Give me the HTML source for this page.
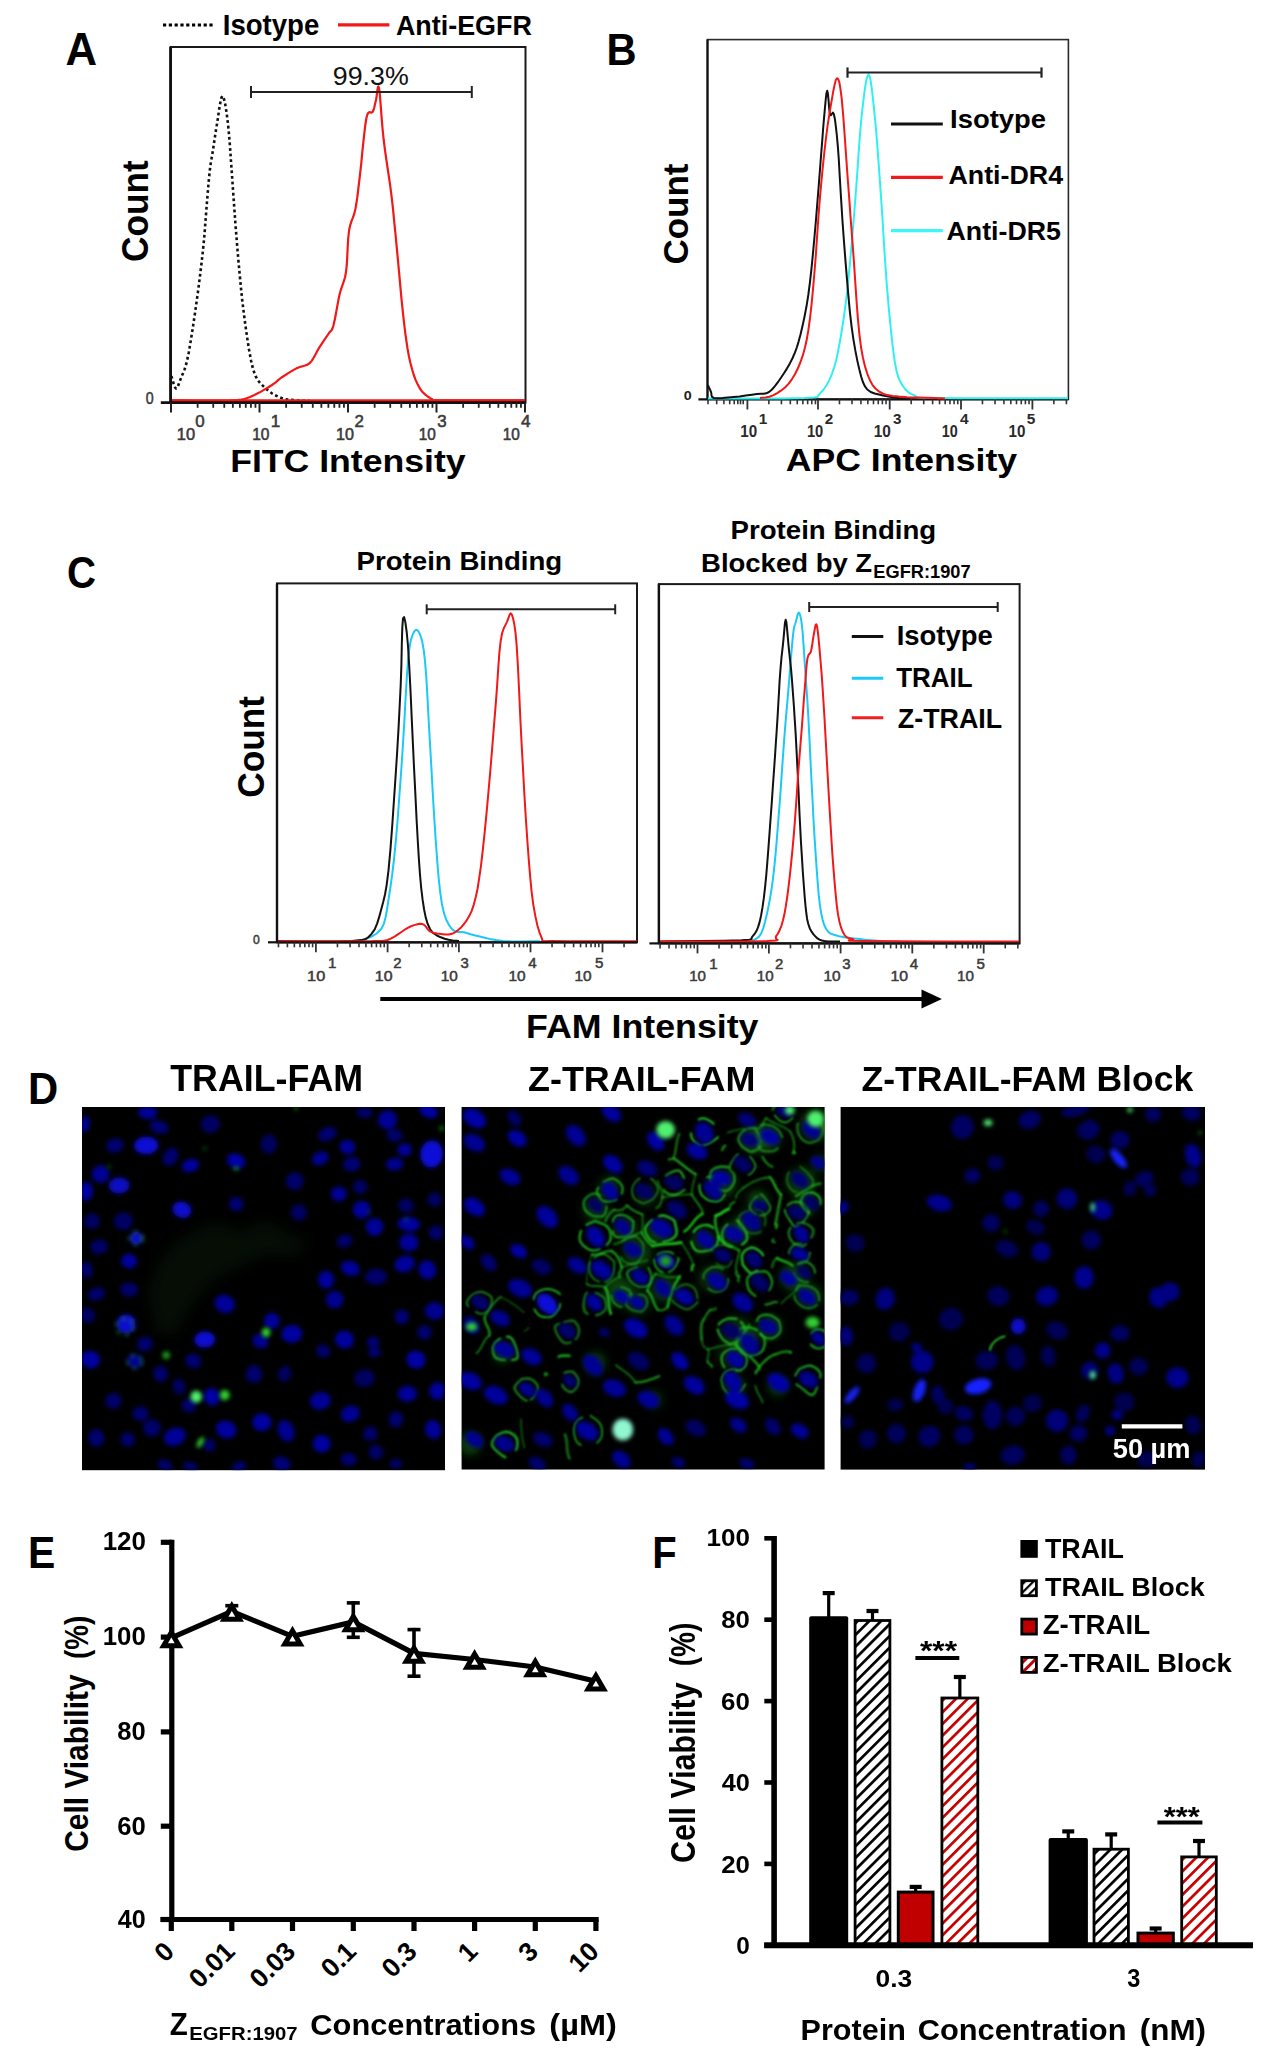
<!DOCTYPE html>
<html><head><meta charset="utf-8"><style>
html,body{margin:0;padding:0;background:#fff;overflow:hidden;}
svg{display:block;}
text{font-family:"Liberation Sans",Arial,sans-serif;}
</style></head><body>
<svg width="1272" height="2050" viewBox="0 0 1272 2050">
<rect width="1272" height="2050" fill="#fff"/>
<text x="65.51" y="65.00" font-size="45.67" font-weight="bold" fill="#000" textLength="31.58" lengthAdjust="spacingAndGlyphs">A</text>
<text x="606.39" y="65.00" font-size="43.78" font-weight="bold" fill="#000" textLength="30.07" lengthAdjust="spacingAndGlyphs">B</text>
<text x="67.09" y="587.50" font-size="44.01" font-weight="bold" fill="#000" textLength="29.00" lengthAdjust="spacingAndGlyphs">C</text>
<text x="27.98" y="1103.60" font-size="43.64" font-weight="bold" fill="#000" textLength="30.18" lengthAdjust="spacingAndGlyphs">D</text>
<text x="28.04" y="1568.20" font-size="44.95" font-weight="bold" fill="#000" textLength="27.28" lengthAdjust="spacingAndGlyphs">E</text>
<text x="652.20" y="1568.00" font-size="43.64" font-weight="bold" fill="#000" textLength="24.43" lengthAdjust="spacingAndGlyphs">F</text>
<line x1="163.00" y1="25.00" x2="215.00" y2="25.00" stroke="#000" stroke-width="3.2" stroke-dasharray="3.2,2.6"/>
<text x="222.74" y="35.40" font-size="28.80" font-weight="bold" fill="#000" textLength="96.59" lengthAdjust="spacingAndGlyphs">Isotype</text>
<line x1="338.00" y1="24.80" x2="389.40" y2="24.80" stroke="#f01818" stroke-width="3.2"/>
<text x="395.92" y="35.40" font-size="26.90" font-weight="bold" fill="#000">Anti-EGFR</text>
<rect x="170.6" y="47" width="354.9" height="355.6" fill="none" stroke="#1a1a1a" stroke-width="2"/>
<polyline points="171.4,376.0 172.0,378.1 172.9,381.2 173.9,384.6 175.0,387.3 176.0,388.5 177.0,388.0 177.9,386.3 178.9,383.8 179.9,380.9 181.0,378.0 182.1,375.3 183.3,372.7 184.5,369.6 185.8,365.6 187.2,360.0 188.7,352.7 190.2,344.1 191.8,334.3 193.4,323.9 195.0,313.0 196.6,301.6 198.3,289.4 199.9,276.6 201.5,263.4 203.0,250.0 204.4,235.5 205.6,219.7 206.8,204.1 208.0,189.7 209.0,178.0 209.9,169.6 210.7,163.5 211.5,158.9 212.2,154.8 213.0,150.0 213.8,144.7 214.5,139.6 215.3,134.4 216.1,129.3 217.0,124.0 218.0,117.6 219.0,110.3 220.2,103.3 221.3,98.0 222.4,96.0 223.5,97.5 224.7,101.5 225.8,107.6 226.9,115.3 228.0,124.0 229.0,134.4 230.0,146.7 230.9,160.1 231.9,173.8 232.8,187.0 233.7,199.6 234.6,212.2 235.5,224.8 236.5,237.4 237.5,250.0 238.6,262.7 239.8,275.5 241.0,288.3 242.3,300.8 243.8,313.0 245.4,325.3 247.2,337.9 249.1,350.0 251.1,360.8 253.2,369.6 255.5,375.9 257.9,380.3 260.4,383.4 263.0,385.9 265.8,388.5 268.7,391.1 271.9,393.3 275.1,395.2 278.3,396.7 281.5,398.0 284.7,399.0 287.8,399.6 291.0,399.9 294.1,400.1 297.0,400.4 300.0,400.6 303.0,400.8 305.9,400.9 308.3,400.9 310.0,401.0" fill="none" stroke="#111" stroke-width="2.6" stroke-linejoin="round" stroke-dasharray="2.8,2.8"/>
<polyline points="171.0,400.3 179.8,400.4 192.6,400.5 207.1,400.5 220.7,400.5 231.0,400.3 237.4,400.0 241.4,399.6 244.2,399.1 246.7,398.3 250.0,397.0 254.4,395.1 259.2,392.6 264.0,389.9 268.4,387.3 272.0,385.0 274.6,383.2 276.4,381.8 277.9,380.4 279.4,379.1 281.5,377.5 284.3,375.7 287.5,373.6 290.8,371.6 294.2,369.6 297.2,368.0 300.0,366.9 302.6,366.2 305.1,365.5 307.5,364.6 309.8,363.0 311.9,360.6 313.8,357.5 315.6,354.2 317.4,350.8 319.2,347.6 321.2,344.6 323.2,341.6 325.2,338.6 327.1,335.9 328.7,333.5 329.9,331.9 330.8,331.0 331.6,330.2 332.4,328.6 333.4,325.6 334.6,320.6 335.8,314.2 337.1,307.1 338.4,300.1 339.7,294.0 341.0,289.3 342.4,285.4 343.7,281.7 345.0,277.5 346.0,272.0 346.8,264.7 347.3,256.1 347.7,246.9 348.2,238.3 349.0,231.0 350.1,225.6 351.4,221.4 352.8,217.8 354.2,213.9 355.4,209.0 356.4,203.3 357.3,197.2 358.1,190.6 359.0,183.2 360.0,174.7 361.2,164.0 362.4,151.2 363.8,138.1 365.1,126.5 366.4,118.0 367.7,113.6 369.1,112.2 370.4,112.3 371.6,112.6 372.7,111.8 373.6,109.8 374.3,107.5 374.8,105.0 375.4,102.5 376.0,100.0 376.6,96.6 377.1,92.1 377.7,88.2 378.3,86.3 379.0,88.0 379.8,94.2 380.6,104.0 381.5,115.8 382.5,128.3 383.7,140.0 385.1,150.9 386.7,162.0 388.4,173.3 390.1,184.9 391.6,196.7 393.0,208.9 394.2,221.4 395.5,234.1 396.7,246.9 397.9,259.6 399.1,272.5 400.3,285.8 401.5,299.0 402.8,311.4 404.0,322.5 405.2,332.3 406.4,341.0 407.6,349.0 408.9,356.2 410.4,363.0 412.1,369.3 413.8,375.0 415.7,380.1 417.8,384.6 419.9,388.5 422.3,391.8 425.0,394.4 427.7,396.5 430.3,398.2 432.5,399.5 433.1,400.3 432.1,400.6 431.7,400.5 433.6,400.4 440.0,400.3 453.4,400.4 472.5,400.4 493.4,400.3 512.2,400.3 525.0,400.3" fill="none" stroke="#f01818" stroke-width="2.2" stroke-linejoin="round"/>
<line x1="171.00" y1="400.60" x2="525.00" y2="400.60" stroke="#f01818" stroke-width="2.6"/>
<line x1="170.60" y1="47.00" x2="170.60" y2="402.60" stroke="#111" stroke-width="2.8"/>
<line x1="160.80" y1="402.60" x2="525.50" y2="402.60" stroke="#111" stroke-width="2.6"/>
<line x1="171.00" y1="402.60" x2="171.00" y2="412.50" stroke="#222" stroke-width="2"/>
<line x1="197.64" y1="402.60" x2="197.64" y2="407.80" stroke="#222" stroke-width="1.8"/>
<line x1="213.23" y1="402.60" x2="213.23" y2="407.80" stroke="#222" stroke-width="1.8"/>
<line x1="224.28" y1="402.60" x2="224.28" y2="407.80" stroke="#222" stroke-width="1.8"/>
<line x1="232.86" y1="402.60" x2="232.86" y2="407.80" stroke="#222" stroke-width="1.8"/>
<line x1="239.87" y1="402.60" x2="239.87" y2="407.80" stroke="#222" stroke-width="1.8"/>
<line x1="245.79" y1="402.60" x2="245.79" y2="407.80" stroke="#222" stroke-width="1.8"/>
<line x1="250.92" y1="402.60" x2="250.92" y2="407.80" stroke="#222" stroke-width="1.8"/>
<line x1="255.45" y1="402.60" x2="255.45" y2="407.80" stroke="#222" stroke-width="1.8"/>
<line x1="259.50" y1="402.60" x2="259.50" y2="412.50" stroke="#222" stroke-width="2"/>
<line x1="286.14" y1="402.60" x2="286.14" y2="407.80" stroke="#222" stroke-width="1.8"/>
<line x1="301.73" y1="402.60" x2="301.73" y2="407.80" stroke="#222" stroke-width="1.8"/>
<line x1="312.78" y1="402.60" x2="312.78" y2="407.80" stroke="#222" stroke-width="1.8"/>
<line x1="321.36" y1="402.60" x2="321.36" y2="407.80" stroke="#222" stroke-width="1.8"/>
<line x1="328.37" y1="402.60" x2="328.37" y2="407.80" stroke="#222" stroke-width="1.8"/>
<line x1="334.29" y1="402.60" x2="334.29" y2="407.80" stroke="#222" stroke-width="1.8"/>
<line x1="339.42" y1="402.60" x2="339.42" y2="407.80" stroke="#222" stroke-width="1.8"/>
<line x1="343.95" y1="402.60" x2="343.95" y2="407.80" stroke="#222" stroke-width="1.8"/>
<line x1="348.00" y1="402.60" x2="348.00" y2="412.50" stroke="#222" stroke-width="2"/>
<line x1="374.64" y1="402.60" x2="374.64" y2="407.80" stroke="#222" stroke-width="1.8"/>
<line x1="390.23" y1="402.60" x2="390.23" y2="407.80" stroke="#222" stroke-width="1.8"/>
<line x1="401.28" y1="402.60" x2="401.28" y2="407.80" stroke="#222" stroke-width="1.8"/>
<line x1="409.86" y1="402.60" x2="409.86" y2="407.80" stroke="#222" stroke-width="1.8"/>
<line x1="416.87" y1="402.60" x2="416.87" y2="407.80" stroke="#222" stroke-width="1.8"/>
<line x1="422.79" y1="402.60" x2="422.79" y2="407.80" stroke="#222" stroke-width="1.8"/>
<line x1="427.92" y1="402.60" x2="427.92" y2="407.80" stroke="#222" stroke-width="1.8"/>
<line x1="432.45" y1="402.60" x2="432.45" y2="407.80" stroke="#222" stroke-width="1.8"/>
<line x1="436.50" y1="402.60" x2="436.50" y2="412.50" stroke="#222" stroke-width="2"/>
<line x1="463.14" y1="402.60" x2="463.14" y2="407.80" stroke="#222" stroke-width="1.8"/>
<line x1="478.73" y1="402.60" x2="478.73" y2="407.80" stroke="#222" stroke-width="1.8"/>
<line x1="489.78" y1="402.60" x2="489.78" y2="407.80" stroke="#222" stroke-width="1.8"/>
<line x1="498.36" y1="402.60" x2="498.36" y2="407.80" stroke="#222" stroke-width="1.8"/>
<line x1="505.37" y1="402.60" x2="505.37" y2="407.80" stroke="#222" stroke-width="1.8"/>
<line x1="511.29" y1="402.60" x2="511.29" y2="407.80" stroke="#222" stroke-width="1.8"/>
<line x1="516.42" y1="402.60" x2="516.42" y2="407.80" stroke="#222" stroke-width="1.8"/>
<line x1="520.95" y1="402.60" x2="520.95" y2="407.80" stroke="#222" stroke-width="1.8"/>
<line x1="525.00" y1="402.60" x2="525.00" y2="412.50" stroke="#222" stroke-width="2"/>
<text x="145.83" y="403.50" font-size="16.34" font-weight="normal" fill="#3a3a3a" textLength="7.92" lengthAdjust="spacingAndGlyphs" stroke="#3a3a3a" stroke-width="0.5">0</text>
<text x="176.77" y="439.60" font-size="15.77" font-weight="normal" fill="#3a3a3a" textLength="18.29" lengthAdjust="spacingAndGlyphs" stroke="#3a3a3a" stroke-width="0.55">10</text>
<text x="195.22" y="427.20" font-size="16.92" font-weight="normal" fill="#3a3a3a" stroke="#3a3a3a" stroke-width="0.55">0</text>
<text x="252.23" y="439.60" font-size="15.77" font-weight="normal" fill="#3a3a3a" textLength="17.28" lengthAdjust="spacingAndGlyphs" stroke="#3a3a3a" stroke-width="0.55">10</text>
<text x="270.71" y="427.20" font-size="17.16" font-weight="normal" fill="#3a3a3a" stroke="#3a3a3a" stroke-width="0.55">1</text>
<text x="335.99" y="439.60" font-size="15.77" font-weight="normal" fill="#3a3a3a" textLength="17.95" lengthAdjust="spacingAndGlyphs" stroke="#3a3a3a" stroke-width="0.55">10</text>
<text x="354.55" y="427.20" font-size="16.92" font-weight="normal" fill="#3a3a3a" stroke="#3a3a3a" stroke-width="0.55">2</text>
<text x="418.65" y="439.60" font-size="15.77" font-weight="normal" fill="#3a3a3a" textLength="17.06" lengthAdjust="spacingAndGlyphs" stroke="#3a3a3a" stroke-width="0.55">10</text>
<text x="437.27" y="427.20" font-size="16.92" font-weight="normal" fill="#3a3a3a" stroke="#3a3a3a" stroke-width="0.55">3</text>
<text x="502.85" y="439.60" font-size="15.77" font-weight="normal" fill="#3a3a3a" textLength="17.06" lengthAdjust="spacingAndGlyphs" stroke="#3a3a3a" stroke-width="0.55">10</text>
<text x="520.91" y="427.20" font-size="17.16" font-weight="normal" fill="#3a3a3a" stroke="#3a3a3a" stroke-width="0.55">4</text>
<line x1="251.00" y1="92.00" x2="471.80" y2="92.00" stroke="#222" stroke-width="2"/>
<line x1="251.00" y1="86.00" x2="251.00" y2="98.00" stroke="#222" stroke-width="2"/>
<line x1="471.80" y1="86.00" x2="471.80" y2="98.00" stroke="#222" stroke-width="2"/>
<text x="332.83" y="85.40" font-size="25.52" font-weight="normal" fill="#111" textLength="75.96" lengthAdjust="spacingAndGlyphs">99.3%</text>
<text transform="translate(148.40,260.60) rotate(-90)" x="-1.41" y="0" font-size="36.56" font-weight="bold" fill="#000" textLength="101.86" lengthAdjust="spacingAndGlyphs">Count</text>
<text x="230.20" y="471.70" font-size="32.00" font-weight="bold" fill="#000" textLength="235.44" lengthAdjust="spacingAndGlyphs">FITC Intensity</text>
<rect x="707.5" y="39.6" width="360.9" height="359.7" fill="none" stroke="#2a2a2a" stroke-width="1.6"/>
<line x1="707.50" y1="39.60" x2="707.50" y2="399.30" stroke="#111" stroke-width="2.2"/>
<line x1="698.40" y1="399.30" x2="1068.40" y2="399.30" stroke="#111" stroke-width="2.2"/>
<line x1="708.00" y1="399.30" x2="708.00" y2="404.30" stroke="#333" stroke-width="1.6"/>
<line x1="716.70" y1="399.30" x2="716.70" y2="404.30" stroke="#333" stroke-width="1.6"/>
<line x1="723.90" y1="399.30" x2="723.90" y2="404.30" stroke="#333" stroke-width="1.6"/>
<line x1="729.70" y1="399.30" x2="729.70" y2="404.30" stroke="#333" stroke-width="1.6"/>
<line x1="734.20" y1="399.30" x2="734.20" y2="404.30" stroke="#333" stroke-width="1.6"/>
<line x1="737.80" y1="399.30" x2="737.80" y2="404.30" stroke="#333" stroke-width="1.6"/>
<line x1="740.50" y1="399.30" x2="740.50" y2="404.30" stroke="#333" stroke-width="1.6"/>
<line x1="743.20" y1="399.30" x2="743.20" y2="404.30" stroke="#333" stroke-width="1.6"/>
<line x1="747.40" y1="399.30" x2="747.40" y2="409.50" stroke="#333" stroke-width="1.8"/>
<line x1="768.86" y1="399.30" x2="768.86" y2="404.30" stroke="#333" stroke-width="1.6"/>
<line x1="781.42" y1="399.30" x2="781.42" y2="404.30" stroke="#333" stroke-width="1.6"/>
<line x1="790.33" y1="399.30" x2="790.33" y2="404.30" stroke="#333" stroke-width="1.6"/>
<line x1="797.24" y1="399.30" x2="797.24" y2="404.30" stroke="#333" stroke-width="1.6"/>
<line x1="802.88" y1="399.30" x2="802.88" y2="404.30" stroke="#333" stroke-width="1.6"/>
<line x1="807.66" y1="399.30" x2="807.66" y2="404.30" stroke="#333" stroke-width="1.6"/>
<line x1="811.79" y1="399.30" x2="811.79" y2="404.30" stroke="#333" stroke-width="1.6"/>
<line x1="815.44" y1="399.30" x2="815.44" y2="404.30" stroke="#333" stroke-width="1.6"/>
<line x1="818.00" y1="399.30" x2="818.00" y2="409.50" stroke="#333" stroke-width="1.8"/>
<line x1="839.46" y1="399.30" x2="839.46" y2="404.30" stroke="#333" stroke-width="1.6"/>
<line x1="852.02" y1="399.30" x2="852.02" y2="404.30" stroke="#333" stroke-width="1.6"/>
<line x1="860.93" y1="399.30" x2="860.93" y2="404.30" stroke="#333" stroke-width="1.6"/>
<line x1="867.84" y1="399.30" x2="867.84" y2="404.30" stroke="#333" stroke-width="1.6"/>
<line x1="873.48" y1="399.30" x2="873.48" y2="404.30" stroke="#333" stroke-width="1.6"/>
<line x1="878.26" y1="399.30" x2="878.26" y2="404.30" stroke="#333" stroke-width="1.6"/>
<line x1="882.39" y1="399.30" x2="882.39" y2="404.30" stroke="#333" stroke-width="1.6"/>
<line x1="886.04" y1="399.30" x2="886.04" y2="404.30" stroke="#333" stroke-width="1.6"/>
<line x1="889.70" y1="399.30" x2="889.70" y2="409.50" stroke="#333" stroke-width="1.8"/>
<line x1="911.16" y1="399.30" x2="911.16" y2="404.30" stroke="#333" stroke-width="1.6"/>
<line x1="923.72" y1="399.30" x2="923.72" y2="404.30" stroke="#333" stroke-width="1.6"/>
<line x1="932.63" y1="399.30" x2="932.63" y2="404.30" stroke="#333" stroke-width="1.6"/>
<line x1="939.54" y1="399.30" x2="939.54" y2="404.30" stroke="#333" stroke-width="1.6"/>
<line x1="945.18" y1="399.30" x2="945.18" y2="404.30" stroke="#333" stroke-width="1.6"/>
<line x1="949.96" y1="399.30" x2="949.96" y2="404.30" stroke="#333" stroke-width="1.6"/>
<line x1="954.09" y1="399.30" x2="954.09" y2="404.30" stroke="#333" stroke-width="1.6"/>
<line x1="957.74" y1="399.30" x2="957.74" y2="404.30" stroke="#333" stroke-width="1.6"/>
<line x1="961.00" y1="399.30" x2="961.00" y2="409.50" stroke="#333" stroke-width="1.8"/>
<line x1="982.46" y1="399.30" x2="982.46" y2="404.30" stroke="#333" stroke-width="1.6"/>
<line x1="995.02" y1="399.30" x2="995.02" y2="404.30" stroke="#333" stroke-width="1.6"/>
<line x1="1003.93" y1="399.30" x2="1003.93" y2="404.30" stroke="#333" stroke-width="1.6"/>
<line x1="1010.84" y1="399.30" x2="1010.84" y2="404.30" stroke="#333" stroke-width="1.6"/>
<line x1="1016.48" y1="399.30" x2="1016.48" y2="404.30" stroke="#333" stroke-width="1.6"/>
<line x1="1021.26" y1="399.30" x2="1021.26" y2="404.30" stroke="#333" stroke-width="1.6"/>
<line x1="1025.39" y1="399.30" x2="1025.39" y2="404.30" stroke="#333" stroke-width="1.6"/>
<line x1="1029.04" y1="399.30" x2="1029.04" y2="404.30" stroke="#333" stroke-width="1.6"/>
<line x1="1032.40" y1="399.30" x2="1032.40" y2="409.50" stroke="#333" stroke-width="1.8"/>
<line x1="1053.86" y1="399.30" x2="1053.86" y2="404.30" stroke="#333" stroke-width="1.6"/>
<line x1="1066.42" y1="399.30" x2="1066.42" y2="404.30" stroke="#333" stroke-width="1.6"/>
<text x="683.83" y="399.60" font-size="13.19" font-weight="bold" fill="#222" textLength="7.96" lengthAdjust="spacingAndGlyphs">0</text>
<text x="740.25" y="437.00" font-size="16.34" font-weight="bold" fill="#2a2a2a" textLength="16.89" lengthAdjust="spacingAndGlyphs">10</text>
<text x="758.74" y="423.70" font-size="15.42" font-weight="bold" fill="#2a2a2a">1</text>
<text x="806.88" y="437.00" font-size="16.34" font-weight="bold" fill="#2a2a2a" textLength="16.34" lengthAdjust="spacingAndGlyphs">10</text>
<text x="824.87" y="423.70" font-size="15.20" font-weight="bold" fill="#2a2a2a">2</text>
<text x="873.64" y="437.00" font-size="16.34" font-weight="bold" fill="#2a2a2a" textLength="17.11" lengthAdjust="spacingAndGlyphs">10</text>
<text x="893.06" y="423.70" font-size="15.20" font-weight="bold" fill="#2a2a2a">3</text>
<text x="941.70" y="437.00" font-size="16.34" font-weight="bold" fill="#2a2a2a" textLength="16.01" lengthAdjust="spacingAndGlyphs">10</text>
<text x="960.07" y="423.70" font-size="15.42" font-weight="bold" fill="#2a2a2a">4</text>
<text x="1008.45" y="437.00" font-size="16.34" font-weight="bold" fill="#2a2a2a" textLength="16.89" lengthAdjust="spacingAndGlyphs">10</text>
<text x="1026.64" y="423.70" font-size="15.42" font-weight="bold" fill="#2a2a2a">5</text>
<polyline points="708.0,398.5 727.2,398.5 755.2,398.5 783.7,398.4 804.4,398.0 814.1,397.5 817.5,396.9 818.2,395.7 820.0,393.4 823.4,389.8 826.5,385.3 829.4,379.9 832.0,373.8 834.2,367.3 836.2,360.3 837.9,352.1 839.8,342.3 841.7,331.0 843.7,318.5 845.6,304.1 847.6,287.3 849.6,266.9 851.7,243.6 853.7,219.5 855.5,196.9 857.1,175.6 858.5,154.7 859.9,135.2 861.4,118.3 863.1,102.8 864.9,88.6 866.7,78.2 868.5,74.2 870.2,78.2 871.8,88.6 873.4,102.8 875.0,118.3 876.5,135.2 878.0,154.7 879.5,175.6 881.0,196.9 882.5,219.0 883.9,242.3 885.4,265.5 887.0,287.3 888.8,308.3 890.8,328.8 892.8,347.3 894.8,362.0 896.7,371.8 898.5,377.9 900.4,381.9 902.7,385.6 905.2,389.2 907.9,391.8 910.9,393.8 914.5,395.4 916.2,396.6 916.6,397.3 920.9,397.7 934.0,398.0 962.6,398.2 1002.2,398.3 1041.2,398.3 1068.0,398.3" fill="none" stroke="#2ff0f0" stroke-width="2" stroke-linejoin="round"/>
<polyline points="708.0,385.0 708.5,386.3 709.3,388.1 710.2,390.2 711.0,392.0 711.4,393.7 711.5,395.5 712.1,397.0 714.0,398.0 717.6,398.3 722.5,398.1 728.0,397.6 733.6,397.0 739.5,396.4 745.8,395.6 751.9,394.7 757.0,394.0 760.8,393.7 763.7,393.7 766.3,393.3 769.0,392.0 772.0,389.5 774.9,386.1 777.9,382.2 780.8,378.0 783.8,373.5 786.9,368.6 789.9,363.4 792.6,358.0 794.9,352.7 796.8,347.5 798.6,341.6 800.5,334.5 802.5,326.1 804.5,316.7 806.5,306.3 808.3,295.0 809.9,282.7 811.4,269.4 812.8,255.2 814.2,240.0 815.7,223.0 817.2,204.5 818.7,186.0 820.0,169.4 821.1,154.7 822.2,141.2 823.1,129.0 824.0,118.3 824.9,108.6 825.7,99.9 826.4,93.5 827.2,90.8 827.9,93.6 828.6,100.8 829.2,108.9 830.0,114.3 830.9,115.2 831.9,113.8 832.9,112.6 833.9,114.3 834.9,119.2 835.8,126.1 836.8,135.0 837.8,145.8 838.8,159.5 839.7,175.8 840.7,192.8 841.7,208.7 842.6,222.8 843.6,236.2 844.6,249.6 845.7,263.7 847.0,279.3 848.4,295.9 849.9,312.1 851.6,326.6 853.4,339.3 855.4,350.9 857.4,361.1 859.4,369.8 861.2,376.7 862.9,382.0 864.8,386.1 867.3,389.5 870.7,392.0 874.7,393.5 878.9,394.5 883.0,395.4 887.0,396.3 891.1,397.0 895.1,397.6 898.7,398.0 902.1,398.3 905.3,398.4 908.1,398.5 910.0,398.5" fill="none" stroke="#111" stroke-width="2" stroke-linejoin="round"/>
<polyline points="760.0,398.0 762.3,397.7 765.5,397.4 769.3,396.8 773.0,395.4 776.8,393.3 780.9,390.7 785.0,387.5 788.7,383.6 792.0,379.1 795.1,374.0 797.9,368.3 800.5,362.0 802.8,355.4 804.8,348.3 806.6,340.3 808.3,330.5 809.9,319.0 811.4,305.9 812.8,291.5 814.2,275.5 815.7,257.0 817.1,236.4 818.5,215.7 820.0,196.9 821.5,180.3 823.0,165.0 824.5,150.9 826.0,138.0 827.5,126.3 829.1,115.9 830.6,106.7 832.0,98.6 833.3,91.2 834.6,84.7 835.8,80.0 837.0,78.2 838.2,79.1 839.3,82.2 840.4,88.5 841.7,98.6 843.1,114.1 844.6,134.2 846.1,156.0 847.6,177.0 849.1,196.7 850.5,216.4 852.0,236.1 853.5,255.8 854.9,276.4 856.3,297.6 857.8,317.6 859.4,334.5 861.1,347.6 863.0,358.0 865.0,366.4 867.3,373.8 869.8,380.0 872.4,384.8 875.4,388.5 879.0,391.5 883.0,393.7 887.4,395.1 892.5,395.9 898.7,396.6 907.0,397.2 916.9,397.6 926.5,397.8 934.0,398.0 938.7,398.2 941.7,398.3 943.6,398.4 945.0,398.5" fill="none" stroke="#f01818" stroke-width="2" stroke-linejoin="round"/>
<line x1="847.50" y1="72.50" x2="1041.50" y2="72.50" stroke="#222" stroke-width="2.2"/>
<line x1="847.50" y1="67.40" x2="847.50" y2="77.70" stroke="#222" stroke-width="2.2"/>
<line x1="1041.50" y1="67.40" x2="1041.50" y2="77.70" stroke="#222" stroke-width="2.2"/>
<line x1="891.00" y1="124.00" x2="942.80" y2="124.00" stroke="#111" stroke-width="3.2"/>
<line x1="891.00" y1="177.40" x2="942.80" y2="177.40" stroke="#f01818" stroke-width="3.2"/>
<line x1="891.00" y1="230.60" x2="942.80" y2="230.60" stroke="#3ff5f5" stroke-width="3.2"/>
<text x="950.05" y="127.70" font-size="25.16" font-weight="bold" fill="#000" textLength="95.97" lengthAdjust="spacingAndGlyphs">Isotype</text>
<text x="948.43" y="184.30" font-size="25.10" font-weight="bold" fill="#000" textLength="114.70" lengthAdjust="spacingAndGlyphs">Anti-DR4</text>
<text x="946.53" y="240.00" font-size="25.38" font-weight="bold" fill="#000" textLength="114.40" lengthAdjust="spacingAndGlyphs">Anti-DR5</text>
<text transform="translate(688.40,263.10) rotate(-90)" x="-1.40" y="0" font-size="35.56" font-weight="bold" fill="#000" textLength="100.84" lengthAdjust="spacingAndGlyphs">Count</text>
<text x="785.71" y="471.30" font-size="31.59" font-weight="bold" fill="#000" textLength="231.41" lengthAdjust="spacingAndGlyphs">APC Intensity</text>
<text x="356.53" y="570.00" font-size="26.48" font-weight="bold" fill="#000" textLength="205.71" lengthAdjust="spacingAndGlyphs">Protein Binding</text>
<text x="730.53" y="539.30" font-size="25.24" font-weight="bold" fill="#000" textLength="205.71" lengthAdjust="spacingAndGlyphs">Protein Binding</text>
<text x="701.04" y="572.00" font-size="25.66" font-weight="bold" fill="#000" textLength="171.15" lengthAdjust="spacingAndGlyphs">Blocked by Z</text>
<text x="873.37" y="578.10" font-size="18.49" font-weight="bold" fill="#000" textLength="97.21" lengthAdjust="spacingAndGlyphs">EGFR:1907</text>
<rect x="277" y="583.4" width="360" height="358.9" fill="none" stroke="#1a1a1a" stroke-width="2"/>
<rect x="658.9" y="584.1" width="360.7" height="359.3" fill="none" stroke="#1a1a1a" stroke-width="2"/>
<polyline points="361.7,941.0 365.5,939.2 371.0,936.8 376.7,933.5 381.2,929.0 383.9,923.6 385.6,917.3 387.0,909.5 388.5,899.7 390.3,888.0 392.2,874.7 394.0,859.3 395.8,841.2 397.7,819.2 399.5,794.0 401.4,768.0 403.0,743.7 404.4,720.6 405.6,697.8 406.8,677.2 408.0,660.8 409.2,649.6 410.4,642.3 411.6,637.6 412.9,634.0 414.4,631.2 416.0,629.9 417.6,630.3 419.2,632.6 420.7,636.3 422.2,641.4 423.6,649.2 425.0,660.8 426.3,677.3 427.5,697.9 428.7,720.7 430.0,743.7 431.4,767.8 432.8,793.7 434.3,818.9 435.8,841.2 437.2,860.4 438.6,877.5 440.2,892.3 442.0,904.6 444.2,913.9 446.6,920.6 449.2,925.3 451.9,929.0 454.7,931.3 457.6,931.9 460.7,931.9 464.0,932.3 467.3,933.2 470.6,934.2 474.3,935.2 478.7,936.3 483.8,937.5 489.5,938.9 495.8,940.1 503.0,941.0 512.2,941.4 523.0,941.4 533.1,941.3 540.0,941.3" fill="none" stroke="#1cc8f8" stroke-width="2" stroke-linejoin="round"/>
<polyline points="277.0,941.0 291.8,941.2 313.3,941.4 335.4,941.5 352.0,941.0 361.0,940.1 365.8,938.9 368.6,937.0 371.5,933.8 374.7,929.3 377.1,923.6 379.2,916.9 381.2,909.4 383.2,902.0 385.0,894.5 386.7,884.6 388.5,870.4 390.4,849.9 392.3,824.8 394.1,798.1 395.8,773.0 397.3,749.8 398.6,727.1 399.7,705.3 400.7,685.0 401.4,664.6 401.8,644.5 402.3,627.9 403.0,618.4 404.1,617.0 405.3,621.9 406.7,632.0 408.0,646.0 409.2,665.5 410.5,690.5 411.7,717.6 412.9,743.7 414.1,769.0 415.4,794.9 416.6,819.6 417.8,841.2 418.9,859.3 420.0,874.7 421.2,888.0 422.6,899.7 424.1,909.5 425.7,917.4 427.6,923.7 430.0,929.0 433.1,933.0 436.9,935.5 440.8,937.3 444.6,938.7 448.6,939.8 452.7,940.5 456.4,940.8 459.0,941.0" fill="none" stroke="#111" stroke-width="2" stroke-linejoin="round"/>
<polyline points="277.0,941.3 286.8,941.3 301.0,941.3 316.4,941.3 330.0,941.3 341.5,941.3 352.4,941.3 362.1,941.3 370.0,941.2 375.7,941.1 379.5,941.0 382.3,940.9 385.0,940.5 387.5,940.0 389.5,939.3 391.2,938.4 393.0,937.5 394.9,936.4 396.7,935.2 398.6,933.9 400.7,932.5 402.9,931.0 405.3,929.3 407.8,927.8 410.4,926.5 413.4,925.4 416.6,924.4 419.8,923.8 422.6,924.0 424.7,925.3 426.5,927.4 428.1,929.7 430.0,931.4 432.2,932.4 434.5,933.1 437.0,933.5 439.7,933.8 442.6,934.2 445.6,934.6 448.8,934.5 451.9,933.8 455.0,932.3 458.1,930.1 461.1,927.4 464.0,924.0 466.7,920.3 469.2,916.1 471.6,911.1 473.8,904.6 475.8,897.0 477.6,888.5 479.2,878.2 481.0,865.6 482.8,850.1 484.7,832.1 486.6,812.6 488.4,792.5 490.3,771.0 492.2,748.0 494.0,725.3 495.7,704.7 497.1,686.1 498.2,668.8 499.3,653.6 500.6,641.4 502.1,633.2 503.8,628.2 505.5,624.9 507.0,621.9 508.3,618.3 509.5,615.0 510.6,613.3 511.8,614.5 513.0,618.1 514.2,623.7 515.5,632.6 516.7,646.0 517.9,665.8 519.1,690.7 520.3,717.7 521.6,743.7 523.0,768.9 524.4,794.6 525.9,819.2 527.4,841.2 528.8,860.1 530.2,876.9 531.6,891.6 533.3,904.6 535.3,915.9 537.4,925.5 539.7,933.1 542.0,938.7 542.6,941.6 542.1,942.0 544.0,941.3 551.8,941.0 569.8,941.2 595.0,941.3 619.9,941.3 637.0,941.3" fill="none" stroke="#f01818" stroke-width="2" stroke-linejoin="round"/>
<polyline points="752.3,941.1 754.0,940.1 756.4,938.7 759.0,936.6 761.4,933.0 763.4,927.8 765.2,921.2 767.0,913.8 768.6,905.9 770.1,898.1 771.4,890.1 772.7,880.9 774.0,869.8 775.4,855.9 776.8,839.9 778.1,823.0 779.4,806.6 780.6,790.6 781.7,774.4 782.8,758.6 783.9,743.4 785.0,729.2 786.1,715.8 787.3,702.6 788.4,689.3 789.6,674.8 790.8,659.6 792.0,645.7 793.0,635.1 793.8,629.0 794.4,626.0 795.0,624.5 795.7,622.5 796.5,619.3 797.3,615.9 798.1,613.4 798.9,612.6 799.7,613.8 800.5,616.5 801.3,620.6 802.0,626.1 802.7,633.1 803.3,641.6 804.0,651.4 804.7,662.2 805.5,674.1 806.4,687.0 807.4,701.2 808.3,716.4 809.2,733.4 810.1,751.9 811.0,770.8 811.9,788.6 812.8,805.2 813.6,821.3 814.5,836.8 815.5,851.7 816.5,866.6 817.6,881.3 818.7,894.7 820.0,905.9 821.4,914.3 822.8,920.6 824.4,925.5 826.4,929.4 828.7,932.3 831.2,933.9 834.0,934.8 837.2,935.7 840.6,936.6 844.3,937.3 848.5,937.8 853.4,938.4 859.6,939.1 866.7,939.9 874.0,940.6 880.5,941.1 886.4,941.4 891.9,941.5 896.7,941.5 900.0,941.5" fill="none" stroke="#1cc8f8" stroke-width="2" stroke-linejoin="round"/>
<polyline points="659.0,941.5 675.5,941.3 699.6,941.1 724.0,940.7 741.5,940.2 749.3,939.7 751.6,939.2 751.5,938.3 752.3,936.6 754.4,934.2 756.3,931.3 758.0,927.4 759.6,922.1 761.1,915.4 762.5,907.4 763.8,898.2 765.0,887.8 766.2,875.9 767.3,862.6 768.4,848.3 769.5,833.7 770.6,818.3 771.8,802.1 772.9,785.9 774.0,770.5 775.0,756.1 775.9,742.3 776.8,729.1 777.6,716.4 778.3,704.0 779.0,692.1 779.6,681.0 780.3,671.2 781.0,663.1 781.6,656.4 782.3,650.3 783.0,644.2 783.7,636.8 784.4,628.8 785.0,622.4 785.7,619.8 786.4,622.2 787.0,628.2 787.7,636.1 788.4,644.2 789.2,652.0 790.1,660.4 791.1,669.7 792.0,680.3 792.9,692.6 793.9,706.2 794.8,720.4 795.7,734.4 796.4,747.9 797.1,761.5 797.8,775.1 798.4,788.6 799.0,802.1 799.6,815.7 800.3,829.2 801.0,842.7 801.9,856.9 802.8,871.5 803.8,885.3 804.7,896.9 805.5,905.9 806.3,913.0 807.1,918.9 808.3,924.0 809.8,928.4 811.6,931.7 813.5,934.4 815.5,936.6 817.5,938.4 819.5,939.6 821.8,940.5 824.5,941.1 828.3,941.5 832.8,941.6 837.1,941.5 840.0,941.5" fill="none" stroke="#111" stroke-width="2" stroke-linejoin="round"/>
<polyline points="659.0,941.5 680.7,941.5 712.3,941.6 744.3,941.5 766.8,941.1 776.0,940.5 777.6,939.8 776.0,938.7 775.8,936.6 777.8,933.7 779.6,930.2 781.4,925.8 783.0,920.3 784.5,913.8 785.8,906.4 787.1,897.8 788.4,887.8 789.8,876.0 791.2,862.7 792.6,848.4 793.9,833.7 795.1,818.1 796.3,801.5 797.4,785.2 798.4,770.5 799.4,757.7 800.3,746.3 801.2,735.6 802.0,725.4 802.7,715.6 803.4,706.4 804.0,697.7 804.7,689.3 805.4,680.7 806.0,672.1 806.7,664.5 807.4,658.6 808.3,655.4 809.2,654.1 810.1,653.3 811.0,651.4 811.7,647.8 812.4,643.5 813.0,639.0 813.7,635.1 814.4,631.3 815.1,627.4 815.7,624.7 816.4,624.3 817.1,626.5 817.7,630.8 818.4,636.7 819.1,644.2 819.9,653.3 820.8,664.0 821.8,676.2 822.7,689.3 823.6,703.8 824.6,719.8 825.5,736.3 826.4,752.5 827.3,768.5 828.2,784.6 829.1,800.5 830.0,815.6 830.9,830.0 831.7,843.8 832.6,857.1 833.6,869.8 834.6,882.3 835.7,894.5 836.8,905.6 838.1,914.9 839.5,922.0 841.0,927.4 842.6,931.5 844.4,934.8 846.5,937.1 848.7,938.2 851.1,938.7 853.4,939.3 852.2,940.0 848.7,940.5 849.9,940.8 862.5,941.1 894.9,941.3 941.3,941.4 987.4,941.5 1019.0,941.5" fill="none" stroke="#f01818" stroke-width="2" stroke-linejoin="round"/>
<line x1="277.00" y1="583.40" x2="277.00" y2="942.30" stroke="#111" stroke-width="2.4"/>
<line x1="658.90" y1="583.70" x2="658.90" y2="943.40" stroke="#111" stroke-width="2.4"/>
<line x1="277.00" y1="942.30" x2="637.00" y2="942.30" stroke="#111" stroke-width="2.2"/>
<line x1="268.00" y1="942.30" x2="277.00" y2="942.30" stroke="#111" stroke-width="2.2"/>
<line x1="278.46" y1="942.30" x2="278.46" y2="947.30" stroke="#333" stroke-width="1.6"/>
<line x1="287.41" y1="942.30" x2="287.41" y2="947.30" stroke="#333" stroke-width="1.6"/>
<line x1="294.35" y1="942.30" x2="294.35" y2="947.30" stroke="#333" stroke-width="1.6"/>
<line x1="300.02" y1="942.30" x2="300.02" y2="947.30" stroke="#333" stroke-width="1.6"/>
<line x1="304.81" y1="942.30" x2="304.81" y2="947.30" stroke="#333" stroke-width="1.6"/>
<line x1="308.96" y1="942.30" x2="308.96" y2="947.30" stroke="#333" stroke-width="1.6"/>
<line x1="312.62" y1="942.30" x2="312.62" y2="947.30" stroke="#333" stroke-width="1.6"/>
<line x1="315.90" y1="942.30" x2="315.90" y2="952.30" stroke="#333" stroke-width="1.8"/>
<line x1="337.45" y1="942.30" x2="337.45" y2="947.30" stroke="#333" stroke-width="1.6"/>
<line x1="350.06" y1="942.30" x2="350.06" y2="947.30" stroke="#333" stroke-width="1.6"/>
<line x1="359.01" y1="942.30" x2="359.01" y2="947.30" stroke="#333" stroke-width="1.6"/>
<line x1="365.95" y1="942.30" x2="365.95" y2="947.30" stroke="#333" stroke-width="1.6"/>
<line x1="371.62" y1="942.30" x2="371.62" y2="947.30" stroke="#333" stroke-width="1.6"/>
<line x1="376.41" y1="942.30" x2="376.41" y2="947.30" stroke="#333" stroke-width="1.6"/>
<line x1="380.56" y1="942.30" x2="380.56" y2="947.30" stroke="#333" stroke-width="1.6"/>
<line x1="384.22" y1="942.30" x2="384.22" y2="947.30" stroke="#333" stroke-width="1.6"/>
<line x1="387.60" y1="942.30" x2="387.60" y2="952.30" stroke="#333" stroke-width="1.8"/>
<line x1="409.15" y1="942.30" x2="409.15" y2="947.30" stroke="#333" stroke-width="1.6"/>
<line x1="421.76" y1="942.30" x2="421.76" y2="947.30" stroke="#333" stroke-width="1.6"/>
<line x1="430.71" y1="942.30" x2="430.71" y2="947.30" stroke="#333" stroke-width="1.6"/>
<line x1="437.65" y1="942.30" x2="437.65" y2="947.30" stroke="#333" stroke-width="1.6"/>
<line x1="443.32" y1="942.30" x2="443.32" y2="947.30" stroke="#333" stroke-width="1.6"/>
<line x1="448.11" y1="942.30" x2="448.11" y2="947.30" stroke="#333" stroke-width="1.6"/>
<line x1="452.26" y1="942.30" x2="452.26" y2="947.30" stroke="#333" stroke-width="1.6"/>
<line x1="455.92" y1="942.30" x2="455.92" y2="947.30" stroke="#333" stroke-width="1.6"/>
<line x1="458.90" y1="942.30" x2="458.90" y2="952.30" stroke="#333" stroke-width="1.8"/>
<line x1="480.45" y1="942.30" x2="480.45" y2="947.30" stroke="#333" stroke-width="1.6"/>
<line x1="493.06" y1="942.30" x2="493.06" y2="947.30" stroke="#333" stroke-width="1.6"/>
<line x1="502.01" y1="942.30" x2="502.01" y2="947.30" stroke="#333" stroke-width="1.6"/>
<line x1="508.95" y1="942.30" x2="508.95" y2="947.30" stroke="#333" stroke-width="1.6"/>
<line x1="514.62" y1="942.30" x2="514.62" y2="947.30" stroke="#333" stroke-width="1.6"/>
<line x1="519.41" y1="942.30" x2="519.41" y2="947.30" stroke="#333" stroke-width="1.6"/>
<line x1="523.56" y1="942.30" x2="523.56" y2="947.30" stroke="#333" stroke-width="1.6"/>
<line x1="527.22" y1="942.30" x2="527.22" y2="947.30" stroke="#333" stroke-width="1.6"/>
<line x1="530.50" y1="942.30" x2="530.50" y2="952.30" stroke="#333" stroke-width="1.8"/>
<line x1="552.05" y1="942.30" x2="552.05" y2="947.30" stroke="#333" stroke-width="1.6"/>
<line x1="564.66" y1="942.30" x2="564.66" y2="947.30" stroke="#333" stroke-width="1.6"/>
<line x1="573.61" y1="942.30" x2="573.61" y2="947.30" stroke="#333" stroke-width="1.6"/>
<line x1="580.55" y1="942.30" x2="580.55" y2="947.30" stroke="#333" stroke-width="1.6"/>
<line x1="586.22" y1="942.30" x2="586.22" y2="947.30" stroke="#333" stroke-width="1.6"/>
<line x1="591.01" y1="942.30" x2="591.01" y2="947.30" stroke="#333" stroke-width="1.6"/>
<line x1="595.16" y1="942.30" x2="595.16" y2="947.30" stroke="#333" stroke-width="1.6"/>
<line x1="598.82" y1="942.30" x2="598.82" y2="947.30" stroke="#333" stroke-width="1.6"/>
<line x1="602.50" y1="942.30" x2="602.50" y2="952.30" stroke="#333" stroke-width="1.8"/>
<line x1="624.05" y1="942.30" x2="624.05" y2="947.30" stroke="#333" stroke-width="1.6"/>
<text x="307.07" y="980.60" font-size="14.91" font-weight="normal" fill="#3a3a3a" textLength="18.18" lengthAdjust="spacingAndGlyphs" stroke="#3a3a3a" stroke-width="0.5">10</text>
<text x="327.97" y="968.20" font-size="15.13" font-weight="normal" fill="#3a3a3a" stroke="#3a3a3a" stroke-width="0.5">1</text>
<text x="374.80" y="980.60" font-size="14.91" font-weight="normal" fill="#3a3a3a" textLength="17.73" lengthAdjust="spacingAndGlyphs" stroke="#3a3a3a" stroke-width="0.5">10</text>
<text x="393.35" y="968.20" font-size="14.91" font-weight="normal" fill="#3a3a3a" stroke="#3a3a3a" stroke-width="0.5">2</text>
<text x="440.85" y="980.60" font-size="14.91" font-weight="normal" fill="#3a3a3a" textLength="17.06" lengthAdjust="spacingAndGlyphs" stroke="#3a3a3a" stroke-width="0.5">10</text>
<text x="460.54" y="968.20" font-size="14.91" font-weight="normal" fill="#3a3a3a" stroke="#3a3a3a" stroke-width="0.5">3</text>
<text x="508.44" y="980.60" font-size="14.91" font-weight="normal" fill="#3a3a3a" textLength="17.17" lengthAdjust="spacingAndGlyphs" stroke="#3a3a3a" stroke-width="0.5">10</text>
<text x="528.16" y="968.20" font-size="15.13" font-weight="normal" fill="#3a3a3a" stroke="#3a3a3a" stroke-width="0.5">4</text>
<text x="574.44" y="980.60" font-size="14.91" font-weight="normal" fill="#3a3a3a" textLength="17.17" lengthAdjust="spacingAndGlyphs" stroke="#3a3a3a" stroke-width="0.5">10</text>
<text x="594.89" y="968.20" font-size="15.13" font-weight="normal" fill="#3a3a3a" stroke="#3a3a3a" stroke-width="0.5">5</text>
<text x="252.91" y="944.00" font-size="13.05" font-weight="normal" fill="#3a3a3a" textLength="6.76" lengthAdjust="spacingAndGlyphs" stroke="#3a3a3a" stroke-width="0.5">0</text>
<line x1="658.90" y1="943.40" x2="1019.60" y2="943.40" stroke="#111" stroke-width="2.2"/>
<line x1="649.40" y1="943.40" x2="658.90" y2="943.40" stroke="#111" stroke-width="2.2"/>
<line x1="660.06" y1="943.40" x2="660.06" y2="948.40" stroke="#333" stroke-width="1.6"/>
<line x1="669.01" y1="943.40" x2="669.01" y2="948.40" stroke="#333" stroke-width="1.6"/>
<line x1="675.95" y1="943.40" x2="675.95" y2="948.40" stroke="#333" stroke-width="1.6"/>
<line x1="681.62" y1="943.40" x2="681.62" y2="948.40" stroke="#333" stroke-width="1.6"/>
<line x1="686.41" y1="943.40" x2="686.41" y2="948.40" stroke="#333" stroke-width="1.6"/>
<line x1="690.56" y1="943.40" x2="690.56" y2="948.40" stroke="#333" stroke-width="1.6"/>
<line x1="694.22" y1="943.40" x2="694.22" y2="948.40" stroke="#333" stroke-width="1.6"/>
<line x1="697.50" y1="943.40" x2="697.50" y2="953.40" stroke="#333" stroke-width="1.8"/>
<line x1="719.05" y1="943.40" x2="719.05" y2="948.40" stroke="#333" stroke-width="1.6"/>
<line x1="731.66" y1="943.40" x2="731.66" y2="948.40" stroke="#333" stroke-width="1.6"/>
<line x1="740.61" y1="943.40" x2="740.61" y2="948.40" stroke="#333" stroke-width="1.6"/>
<line x1="747.55" y1="943.40" x2="747.55" y2="948.40" stroke="#333" stroke-width="1.6"/>
<line x1="753.22" y1="943.40" x2="753.22" y2="948.40" stroke="#333" stroke-width="1.6"/>
<line x1="758.01" y1="943.40" x2="758.01" y2="948.40" stroke="#333" stroke-width="1.6"/>
<line x1="762.16" y1="943.40" x2="762.16" y2="948.40" stroke="#333" stroke-width="1.6"/>
<line x1="765.82" y1="943.40" x2="765.82" y2="948.40" stroke="#333" stroke-width="1.6"/>
<line x1="768.90" y1="943.40" x2="768.90" y2="953.40" stroke="#333" stroke-width="1.8"/>
<line x1="790.45" y1="943.40" x2="790.45" y2="948.40" stroke="#333" stroke-width="1.6"/>
<line x1="803.06" y1="943.40" x2="803.06" y2="948.40" stroke="#333" stroke-width="1.6"/>
<line x1="812.01" y1="943.40" x2="812.01" y2="948.40" stroke="#333" stroke-width="1.6"/>
<line x1="818.95" y1="943.40" x2="818.95" y2="948.40" stroke="#333" stroke-width="1.6"/>
<line x1="824.62" y1="943.40" x2="824.62" y2="948.40" stroke="#333" stroke-width="1.6"/>
<line x1="829.41" y1="943.40" x2="829.41" y2="948.40" stroke="#333" stroke-width="1.6"/>
<line x1="833.56" y1="943.40" x2="833.56" y2="948.40" stroke="#333" stroke-width="1.6"/>
<line x1="837.22" y1="943.40" x2="837.22" y2="948.40" stroke="#333" stroke-width="1.6"/>
<line x1="840.60" y1="943.40" x2="840.60" y2="953.40" stroke="#333" stroke-width="1.8"/>
<line x1="862.15" y1="943.40" x2="862.15" y2="948.40" stroke="#333" stroke-width="1.6"/>
<line x1="874.76" y1="943.40" x2="874.76" y2="948.40" stroke="#333" stroke-width="1.6"/>
<line x1="883.71" y1="943.40" x2="883.71" y2="948.40" stroke="#333" stroke-width="1.6"/>
<line x1="890.65" y1="943.40" x2="890.65" y2="948.40" stroke="#333" stroke-width="1.6"/>
<line x1="896.32" y1="943.40" x2="896.32" y2="948.40" stroke="#333" stroke-width="1.6"/>
<line x1="901.11" y1="943.40" x2="901.11" y2="948.40" stroke="#333" stroke-width="1.6"/>
<line x1="905.26" y1="943.40" x2="905.26" y2="948.40" stroke="#333" stroke-width="1.6"/>
<line x1="908.92" y1="943.40" x2="908.92" y2="948.40" stroke="#333" stroke-width="1.6"/>
<line x1="912.30" y1="943.40" x2="912.30" y2="953.40" stroke="#333" stroke-width="1.8"/>
<line x1="933.85" y1="943.40" x2="933.85" y2="948.40" stroke="#333" stroke-width="1.6"/>
<line x1="946.46" y1="943.40" x2="946.46" y2="948.40" stroke="#333" stroke-width="1.6"/>
<line x1="955.41" y1="943.40" x2="955.41" y2="948.40" stroke="#333" stroke-width="1.6"/>
<line x1="962.35" y1="943.40" x2="962.35" y2="948.40" stroke="#333" stroke-width="1.6"/>
<line x1="968.02" y1="943.40" x2="968.02" y2="948.40" stroke="#333" stroke-width="1.6"/>
<line x1="972.81" y1="943.40" x2="972.81" y2="948.40" stroke="#333" stroke-width="1.6"/>
<line x1="976.96" y1="943.40" x2="976.96" y2="948.40" stroke="#333" stroke-width="1.6"/>
<line x1="980.62" y1="943.40" x2="980.62" y2="948.40" stroke="#333" stroke-width="1.6"/>
<line x1="983.70" y1="943.40" x2="983.70" y2="953.40" stroke="#333" stroke-width="1.8"/>
<line x1="1005.25" y1="943.40" x2="1005.25" y2="948.40" stroke="#333" stroke-width="1.6"/>
<line x1="1017.86" y1="943.40" x2="1017.86" y2="948.40" stroke="#333" stroke-width="1.6"/>
<text x="689.16" y="981.30" font-size="14.91" font-weight="normal" fill="#3a3a3a" textLength="16.84" lengthAdjust="spacingAndGlyphs" stroke="#3a3a3a" stroke-width="0.5">10</text>
<text x="709.27" y="968.50" font-size="15.13" font-weight="normal" fill="#3a3a3a" stroke="#3a3a3a" stroke-width="0.5">1</text>
<text x="756.76" y="981.30" font-size="14.91" font-weight="normal" fill="#3a3a3a" textLength="16.84" lengthAdjust="spacingAndGlyphs" stroke="#3a3a3a" stroke-width="0.5">10</text>
<text x="775.05" y="968.50" font-size="14.91" font-weight="normal" fill="#3a3a3a" stroke="#3a3a3a" stroke-width="0.5">2</text>
<text x="823.44" y="981.30" font-size="14.91" font-weight="normal" fill="#3a3a3a" textLength="17.17" lengthAdjust="spacingAndGlyphs" stroke="#3a3a3a" stroke-width="0.5">10</text>
<text x="842.24" y="968.50" font-size="14.91" font-weight="normal" fill="#3a3a3a" stroke="#3a3a3a" stroke-width="0.5">3</text>
<text x="890.41" y="981.30" font-size="14.91" font-weight="normal" fill="#3a3a3a" textLength="17.62" lengthAdjust="spacingAndGlyphs" stroke="#3a3a3a" stroke-width="0.5">10</text>
<text x="909.76" y="968.50" font-size="15.13" font-weight="normal" fill="#3a3a3a" stroke="#3a3a3a" stroke-width="0.5">4</text>
<text x="957.06" y="981.30" font-size="14.91" font-weight="normal" fill="#3a3a3a" textLength="16.95" lengthAdjust="spacingAndGlyphs" stroke="#3a3a3a" stroke-width="0.5">10</text>
<text x="976.49" y="968.50" font-size="15.13" font-weight="normal" fill="#3a3a3a" stroke="#3a3a3a" stroke-width="0.5">5</text>
<line x1="426.70" y1="609.30" x2="615.20" y2="609.30" stroke="#222" stroke-width="2"/>
<line x1="426.70" y1="604.30" x2="426.70" y2="614.30" stroke="#222" stroke-width="2"/>
<line x1="615.20" y1="604.30" x2="615.20" y2="614.30" stroke="#222" stroke-width="2"/>
<line x1="809.20" y1="607.00" x2="997.70" y2="607.00" stroke="#222" stroke-width="2"/>
<line x1="809.20" y1="602.00" x2="809.20" y2="612.00" stroke="#222" stroke-width="2"/>
<line x1="997.70" y1="602.00" x2="997.70" y2="612.00" stroke="#222" stroke-width="2"/>
<line x1="851.80" y1="636.50" x2="883.30" y2="636.50" stroke="#111" stroke-width="3"/>
<line x1="851.80" y1="678.20" x2="883.30" y2="678.20" stroke="#1cc8f8" stroke-width="3"/>
<line x1="851.80" y1="717.80" x2="883.30" y2="717.80" stroke="#f02020" stroke-width="3"/>
<text x="896.75" y="645.20" font-size="27.05" font-weight="bold" fill="#000" textLength="95.97" lengthAdjust="spacingAndGlyphs">Isotype</text>
<text x="896.14" y="687.20" font-size="27.78" font-weight="bold" fill="#000" textLength="76.38" lengthAdjust="spacingAndGlyphs">TRAIL</text>
<text x="897.79" y="728.40" font-size="27.49" font-weight="bold" fill="#000" textLength="104.42" lengthAdjust="spacingAndGlyphs">Z-TRAIL</text>
<text transform="translate(264.10,796.40) rotate(-90)" x="-1.41" y="0" font-size="37.85" font-weight="bold" fill="#000" textLength="101.76" lengthAdjust="spacingAndGlyphs">Count</text>
<line x1="380.30" y1="999.00" x2="925.00" y2="999.00" stroke="#000" stroke-width="4"/>
<polygon points="941.9,999 921.5,989.4 921.5,1008.6" fill="#000"/>
<text x="526.09" y="1038.00" font-size="32.41" font-weight="bold" fill="#000" textLength="232.42" lengthAdjust="spacingAndGlyphs">FAM Intensity</text>
<defs><filter id="nb" x="-20%" y="-20%" width="140%" height="140%"><feGaussianBlur stdDeviation="1.9"/></filter>
<filter id="hz" x="-20%" y="-20%" width="140%" height="140%"><feGaussianBlur stdDeviation="8"/></filter>
<filter id="hz2" x="-50%" y="-50%" width="200%" height="200%"><feGaussianBlur stdDeviation="5"/></filter>
<filter id="gb" x="-10%" y="-10%" width="120%" height="120%"><feGaussianBlur stdDeviation="0.8"/></filter></defs>
<g transform="translate(82,1107)">
<rect x="0" y="0" width="363" height="363.2" fill="#000"/>
<clipPath id="clip1"><rect x="0" y="0" width="363" height="363.2"/></clipPath>
<g clip-path="url(#clip1)">
<path d="M74.2,159.8 L94.2,134.1 L119.9,119.9 L137.0,114.2 L159.8,125.6 L182.6,111.3 L205.5,125.6 L228.3,137.0 L216.9,148.4 L182.6,148.4 L159.8,159.8 L134.1,171.2 L108.4,199.8 L94.2,228.3 L74.2,225.4 L65.6,185.5Z" fill="#0a200a" opacity="0.4" filter="url(#hz)"/>
<g filter="url(#nb)">
<ellipse cx="65.6" cy="5.7" rx="9.6" ry="6.4" fill="rgb(6,6,153)" transform="rotate(4 65.6 5.7)"/>
<ellipse cx="128.4" cy="17.1" rx="9.6" ry="8.8" fill="rgb(4,4,100)" transform="rotate(4 128.4 17.1)"/>
<ellipse cx="77.1" cy="20.0" rx="9.6" ry="6.4" fill="rgb(4,4,115)" transform="rotate(16 77.1 20.0)"/>
<ellipse cx="2.9" cy="17.1" rx="4.8" ry="8.0" fill="rgb(6,6,146)" transform="rotate(8 2.9 17.1)"/>
<ellipse cx="282.5" cy="5.7" rx="8.0" ry="5.6" fill="rgb(4,4,103)" transform="rotate(1 282.5 5.7)"/>
<ellipse cx="305.4" cy="12.8" rx="9.6" ry="9.6" fill="rgb(6,6,148)" transform="rotate(-40 305.4 12.8)"/>
<ellipse cx="346.7" cy="4.3" rx="9.6" ry="6.4" fill="rgb(6,6,166)" transform="rotate(23 346.7 4.3)"/>
<ellipse cx="245.4" cy="27.1" rx="9.6" ry="6.4" fill="rgb(4,4,116)" transform="rotate(-23 245.4 27.1)"/>
<ellipse cx="312.5" cy="28.5" rx="8.0" ry="6.4" fill="rgb(4,4,105)" transform="rotate(5 312.5 28.5)"/>
<ellipse cx="32.8" cy="38.5" rx="8.8" ry="7.2" fill="rgb(4,4,112)" transform="rotate(-11 32.8 38.5)"/>
<ellipse cx="64.2" cy="38.5" rx="12.0" ry="8.8" fill="rgb(12,14,212)" transform="rotate(-2 64.2 38.5)"/>
<ellipse cx="88.5" cy="49.9" rx="7.2" ry="9.6" fill="rgb(4,4,111)" transform="rotate(30 88.5 49.9)"/>
<ellipse cx="108.4" cy="58.5" rx="8.8" ry="6.4" fill="rgb(6,6,161)" transform="rotate(-18 108.4 58.5)"/>
<ellipse cx="154.1" cy="54.2" rx="9.6" ry="7.2" fill="rgb(6,6,166)" transform="rotate(24 154.1 54.2)"/>
<ellipse cx="186.9" cy="37.1" rx="8.0" ry="9.6" fill="rgb(4,4,97)" transform="rotate(6 186.9 37.1)"/>
<ellipse cx="238.3" cy="51.4" rx="8.8" ry="6.4" fill="rgb(6,6,146)" transform="rotate(-25 238.3 51.4)"/>
<ellipse cx="265.4" cy="40.0" rx="8.0" ry="7.2" fill="rgb(6,6,150)" transform="rotate(22 265.4 40.0)"/>
<ellipse cx="269.7" cy="57.1" rx="8.8" ry="7.2" fill="rgb(4,4,117)" transform="rotate(-7 269.7 57.1)"/>
<ellipse cx="322.5" cy="42.8" rx="7.2" ry="6.4" fill="rgb(6,6,156)" transform="rotate(-9 322.5 42.8)"/>
<ellipse cx="312.5" cy="57.1" rx="8.8" ry="6.4" fill="rgb(6,6,144)" transform="rotate(-3 312.5 57.1)"/>
<ellipse cx="349.6" cy="47.1" rx="11.2" ry="13.6" fill="rgb(12,14,216)" transform="rotate(4 349.6 47.1)"/>
<ellipse cx="18.5" cy="67.1" rx="8.8" ry="8.8" fill="rgb(6,6,148)" transform="rotate(-17 18.5 67.1)"/>
<ellipse cx="37.1" cy="78.5" rx="10.4" ry="8.0" fill="rgb(12,14,196)" transform="rotate(-4 37.1 78.5)"/>
<ellipse cx="4.3" cy="84.2" rx="6.4" ry="9.6" fill="rgb(6,6,162)" transform="rotate(-0 4.3 84.2)"/>
<ellipse cx="212.6" cy="74.2" rx="8.8" ry="8.8" fill="rgb(4,4,108)" transform="rotate(8 212.6 74.2)"/>
<ellipse cx="278.2" cy="79.9" rx="7.2" ry="7.2" fill="rgb(4,4,99)" transform="rotate(18 278.2 79.9)"/>
<ellipse cx="256.8" cy="87.0" rx="8.0" ry="7.2" fill="rgb(6,6,151)" transform="rotate(3 256.8 87.0)"/>
<ellipse cx="352.4" cy="92.7" rx="7.2" ry="7.2" fill="rgb(4,4,98)" transform="rotate(5 352.4 92.7)"/>
<ellipse cx="323.9" cy="98.5" rx="8.0" ry="7.2" fill="rgb(4,4,98)" transform="rotate(14 323.9 98.5)"/>
<ellipse cx="154.1" cy="97.0" rx="7.2" ry="7.2" fill="rgb(4,4,115)" transform="rotate(-17 154.1 97.0)"/>
<ellipse cx="99.9" cy="102.7" rx="9.6" ry="8.0" fill="rgb(12,14,206)" transform="rotate(22 99.9 102.7)"/>
<ellipse cx="216.9" cy="105.6" rx="8.0" ry="8.0" fill="rgb(4,4,101)" transform="rotate(-4 216.9 105.6)"/>
<ellipse cx="279.7" cy="102.7" rx="8.8" ry="8.8" fill="rgb(6,6,157)" transform="rotate(-11 279.7 102.7)"/>
<ellipse cx="10.0" cy="114.2" rx="8.0" ry="8.0" fill="rgb(4,4,98)" transform="rotate(-16 10.0 114.2)"/>
<ellipse cx="41.4" cy="114.2" rx="9.6" ry="8.8" fill="rgb(4,4,99)" transform="rotate(-2 41.4 114.2)"/>
<ellipse cx="326.8" cy="117.0" rx="11.2" ry="7.2" fill="rgb(6,6,162)" transform="rotate(7 326.8 117.0)"/>
<ellipse cx="292.5" cy="119.9" rx="8.8" ry="8.8" fill="rgb(6,6,154)" transform="rotate(14 292.5 119.9)"/>
<ellipse cx="353.9" cy="125.6" rx="7.2" ry="7.2" fill="rgb(4,4,106)" transform="rotate(-8 353.9 125.6)"/>
<ellipse cx="54.2" cy="131.3" rx="6.4" ry="6.4" fill="rgb(12,14,213)" transform="rotate(-25 54.2 131.3)"/>
<ellipse cx="17.1" cy="139.8" rx="8.8" ry="7.2" fill="rgb(4,4,103)" transform="rotate(-8 17.1 139.8)"/>
<ellipse cx="262.5" cy="134.1" rx="8.0" ry="6.4" fill="rgb(4,4,106)" transform="rotate(-21 262.5 134.1)"/>
<ellipse cx="326.8" cy="135.6" rx="9.6" ry="8.8" fill="rgb(6,6,152)" transform="rotate(4 326.8 135.6)"/>
<ellipse cx="47.1" cy="154.1" rx="8.0" ry="7.2" fill="rgb(6,6,159)" transform="rotate(18 47.1 154.1)"/>
<ellipse cx="4.3" cy="162.7" rx="6.4" ry="8.0" fill="rgb(4,4,108)" transform="rotate(-13 4.3 162.7)"/>
<ellipse cx="268.3" cy="161.2" rx="9.6" ry="7.2" fill="rgb(6,6,155)" transform="rotate(21 268.3 161.2)"/>
<ellipse cx="322.5" cy="157.0" rx="10.4" ry="8.0" fill="rgb(6,6,157)" transform="rotate(-20 322.5 157.0)"/>
<ellipse cx="345.3" cy="162.7" rx="8.8" ry="9.6" fill="rgb(6,6,154)" transform="rotate(-22 345.3 162.7)"/>
<ellipse cx="293.9" cy="169.8" rx="11.2" ry="8.0" fill="rgb(4,4,105)" transform="rotate(-2 293.9 169.8)"/>
<ellipse cx="244.0" cy="172.7" rx="8.0" ry="8.8" fill="rgb(6,6,157)" transform="rotate(-4 244.0 172.7)"/>
<ellipse cx="47.1" cy="182.6" rx="8.8" ry="7.2" fill="rgb(4,4,107)" transform="rotate(2 47.1 182.6)"/>
<ellipse cx="14.3" cy="186.9" rx="8.8" ry="6.4" fill="rgb(4,4,106)" transform="rotate(-17 14.3 186.9)"/>
<ellipse cx="142.7" cy="196.9" rx="10.4" ry="8.8" fill="rgb(6,6,152)" transform="rotate(23 142.7 196.9)"/>
<ellipse cx="252.6" cy="192.6" rx="8.8" ry="8.8" fill="rgb(6,6,143)" transform="rotate(-23 252.6 192.6)"/>
<ellipse cx="352.4" cy="204.0" rx="9.6" ry="8.8" fill="rgb(6,6,144)" transform="rotate(2 352.4 204.0)"/>
<ellipse cx="5.7" cy="208.3" rx="7.2" ry="8.0" fill="rgb(4,4,98)" transform="rotate(-20 5.7 208.3)"/>
<ellipse cx="319.6" cy="209.8" rx="7.2" ry="7.2" fill="rgb(4,4,119)" transform="rotate(-2 319.6 209.8)"/>
<ellipse cx="44.2" cy="216.9" rx="9.6" ry="9.6" fill="rgb(12,14,207)" transform="rotate(-1 44.2 216.9)"/>
<ellipse cx="189.8" cy="214.0" rx="8.0" ry="8.0" fill="rgb(6,6,155)" transform="rotate(-3 189.8 214.0)"/>
<ellipse cx="209.8" cy="226.9" rx="10.4" ry="8.8" fill="rgb(6,6,160)" transform="rotate(-3 209.8 226.9)"/>
<ellipse cx="262.5" cy="232.6" rx="9.6" ry="8.8" fill="rgb(6,6,159)" transform="rotate(20 262.5 232.6)"/>
<ellipse cx="122.7" cy="232.6" rx="10.4" ry="8.0" fill="rgb(12,14,211)" transform="rotate(-4 122.7 232.6)"/>
<ellipse cx="178.4" cy="234.0" rx="8.0" ry="7.2" fill="rgb(6,6,146)" transform="rotate(20 178.4 234.0)"/>
<ellipse cx="62.8" cy="236.9" rx="8.0" ry="7.2" fill="rgb(4,4,110)" transform="rotate(-13 62.8 236.9)"/>
<ellipse cx="342.5" cy="225.4" rx="7.2" ry="7.2" fill="rgb(4,4,111)" transform="rotate(9 342.5 225.4)"/>
<ellipse cx="291.1" cy="235.4" rx="6.4" ry="5.6" fill="rgb(4,4,115)" transform="rotate(4 291.1 235.4)"/>
<ellipse cx="292.5" cy="245.4" rx="6.4" ry="4.8" fill="rgb(4,4,115)" transform="rotate(-1 292.5 245.4)"/>
<ellipse cx="241.1" cy="244.0" rx="7.2" ry="6.4" fill="rgb(4,4,106)" transform="rotate(23 241.1 244.0)"/>
<ellipse cx="8.6" cy="252.6" rx="9.6" ry="8.8" fill="rgb(6,6,160)" transform="rotate(18 8.6 252.6)"/>
<ellipse cx="52.8" cy="254.0" rx="8.0" ry="7.2" fill="rgb(6,6,144)" transform="rotate(19 52.8 254.0)"/>
<ellipse cx="111.3" cy="254.0" rx="8.0" ry="7.2" fill="rgb(4,4,114)" transform="rotate(21 111.3 254.0)"/>
<ellipse cx="333.9" cy="252.6" rx="9.6" ry="8.8" fill="rgb(6,6,166)" transform="rotate(23 333.9 252.6)"/>
<ellipse cx="78.5" cy="266.8" rx="7.2" ry="8.0" fill="rgb(4,4,112)" transform="rotate(-11 78.5 266.8)"/>
<ellipse cx="172.7" cy="266.8" rx="7.2" ry="8.8" fill="rgb(4,4,110)" transform="rotate(-18 172.7 266.8)"/>
<ellipse cx="202.6" cy="266.8" rx="6.4" ry="8.0" fill="rgb(4,4,100)" transform="rotate(21 202.6 266.8)"/>
<ellipse cx="282.5" cy="271.1" rx="10.4" ry="8.8" fill="rgb(4,4,97)" transform="rotate(-8 282.5 271.1)"/>
<ellipse cx="97.0" cy="279.7" rx="6.4" ry="8.0" fill="rgb(4,4,100)" transform="rotate(-15 97.0 279.7)"/>
<ellipse cx="129.8" cy="289.7" rx="8.0" ry="8.8" fill="rgb(6,6,166)" transform="rotate(-20 129.8 289.7)"/>
<ellipse cx="31.4" cy="293.9" rx="8.0" ry="8.0" fill="rgb(4,4,107)" transform="rotate(19 31.4 293.9)"/>
<ellipse cx="107.0" cy="298.2" rx="7.2" ry="7.2" fill="rgb(4,4,112)" transform="rotate(12 107.0 298.2)"/>
<ellipse cx="325.3" cy="286.8" rx="9.6" ry="8.0" fill="rgb(6,6,153)" transform="rotate(1 325.3 286.8)"/>
<ellipse cx="355.3" cy="284.0" rx="8.0" ry="8.8" fill="rgb(6,6,156)" transform="rotate(8 355.3 284.0)"/>
<ellipse cx="238.3" cy="293.9" rx="10.4" ry="8.8" fill="rgb(6,6,151)" transform="rotate(-12 238.3 293.9)"/>
<ellipse cx="58.5" cy="306.8" rx="8.0" ry="7.2" fill="rgb(4,4,111)" transform="rotate(6 58.5 306.8)"/>
<ellipse cx="268.3" cy="306.8" rx="9.6" ry="8.0" fill="rgb(6,6,148)" transform="rotate(-20 268.3 306.8)"/>
<ellipse cx="179.8" cy="315.3" rx="9.6" ry="8.8" fill="rgb(6,6,163)" transform="rotate(5 179.8 315.3)"/>
<ellipse cx="144.1" cy="322.5" rx="10.4" ry="8.8" fill="rgb(6,6,158)" transform="rotate(19 144.1 322.5)"/>
<ellipse cx="92.7" cy="329.6" rx="11.2" ry="8.8" fill="rgb(6,6,153)" transform="rotate(-21 92.7 329.6)"/>
<ellipse cx="204.0" cy="323.9" rx="8.0" ry="11.2" fill="rgb(6,6,144)" transform="rotate(-21 204.0 323.9)"/>
<ellipse cx="69.9" cy="321.0" rx="8.8" ry="8.8" fill="rgb(4,4,106)" transform="rotate(-12 69.9 321.0)"/>
<ellipse cx="313.9" cy="312.5" rx="7.2" ry="8.0" fill="rgb(4,4,111)" transform="rotate(13 313.9 312.5)"/>
<ellipse cx="14.3" cy="331.0" rx="8.0" ry="8.8" fill="rgb(4,4,112)" transform="rotate(-11 14.3 331.0)"/>
<ellipse cx="45.7" cy="332.5" rx="7.2" ry="7.2" fill="rgb(4,4,108)" transform="rotate(0 45.7 332.5)"/>
<ellipse cx="351.0" cy="322.5" rx="8.0" ry="9.6" fill="rgb(6,6,153)" transform="rotate(-12 351.0 322.5)"/>
<ellipse cx="239.7" cy="336.7" rx="8.8" ry="8.8" fill="rgb(6,6,160)" transform="rotate(-8 239.7 336.7)"/>
<ellipse cx="288.2" cy="326.8" rx="7.2" ry="7.2" fill="rgb(4,4,106)" transform="rotate(-1 288.2 326.8)"/>
<ellipse cx="127.0" cy="338.2" rx="6.4" ry="6.4" fill="rgb(4,4,107)" transform="rotate(-1 127.0 338.2)"/>
<ellipse cx="266.8" cy="352.4" rx="8.0" ry="6.4" fill="rgb(4,4,113)" transform="rotate(9 266.8 352.4)"/>
<ellipse cx="293.9" cy="345.3" rx="7.2" ry="7.2" fill="rgb(4,4,105)" transform="rotate(15 293.9 345.3)"/>
<ellipse cx="199.8" cy="356.7" rx="8.8" ry="7.2" fill="rgb(4,4,119)" transform="rotate(15 199.8 356.7)"/>
<ellipse cx="82.8" cy="358.1" rx="8.0" ry="4.8" fill="rgb(4,4,113)" transform="rotate(25 82.8 358.1)"/>
<ellipse cx="157.0" cy="359.6" rx="7.2" ry="4.8" fill="rgb(4,4,116)" transform="rotate(-22 157.0 359.6)"/>
<ellipse cx="108.4" cy="359.6" rx="8.0" ry="4.8" fill="rgb(4,4,96)" transform="rotate(17 108.4 359.6)"/>
<ellipse cx="313.9" cy="356.7" rx="6.4" ry="4.8" fill="rgb(4,4,103)" transform="rotate(-9 313.9 356.7)"/>
<ellipse cx="171.2" cy="266.8" rx="7.2" ry="8.8" fill="rgb(4,4,110)" transform="rotate(12 171.2 266.8)"/>
</g>
<g filter="url(#nb)">
<ellipse cx="114.2" cy="289.7" rx="5.7" ry="6.0" fill="#50f070"/>
<ellipse cx="142.7" cy="288.2" rx="4.9" ry="5.1" fill="#30d030"/>
<ellipse cx="184.1" cy="225.4" rx="4.3" ry="4.6" fill="#30d030"/>
<ellipse cx="84.2" cy="248.3" rx="3.7" ry="3.7" fill="#1fa01f"/>
<ellipse cx="118.4" cy="335.3" rx="2.6" ry="6.0" fill="#30d030" transform="rotate(30 118.4 335.3)"/>
<ellipse cx="54.2" cy="131.3" rx="6.6" ry="6.3" fill="none" stroke="#2fb82f" stroke-width="2" stroke-dasharray="4,5" stroke-opacity="0.8"/>
<ellipse cx="42.8" cy="219.7" rx="8.8" ry="8.0" fill="none" stroke="#2fb82f" stroke-width="2" stroke-dasharray="4,5" stroke-opacity="0.8"/>
<ellipse cx="52.8" cy="254.8" rx="7.1" ry="6.3" fill="none" stroke="#2fb82f" stroke-width="2" stroke-dasharray="4,5" stroke-opacity="0.8"/>
<ellipse cx="154.1" cy="61.4" rx="3.1" ry="1.7" fill="#1fa01f"/>
<ellipse cx="122.7" cy="41.4" rx="1.4" ry="1.4" fill="#1fa01f"/>
<ellipse cx="27.1" cy="59.9" rx="1.4" ry="1.4" fill="#1fa01f"/>
<ellipse cx="323.9" cy="112.7" rx="1.4" ry="1.4" fill="#1fa01f"/>
<ellipse cx="214.0" cy="1.4" rx="2.0" ry="1.4" fill="#1fa01f"/>
<ellipse cx="359.6" cy="21.4" rx="1.7" ry="2.3" fill="#1fa01f"/>
<ellipse cx="286.8" cy="105.0" rx="1.1" ry="1.1" fill="#1fa01f"/>
</g>
</g></g>
<g transform="translate(461.6,1107)">
<rect x="0" y="0" width="363" height="362.5" fill="#000"/>
<clipPath id="clip2"><rect x="0" y="0" width="363" height="362.5"/></clipPath>
<g clip-path="url(#clip2)">
<g filter="url(#gb)" fill="none" stroke-linecap="round">
<path d="M59.5,311.9 C59.0,321.7 60.4,331.4 62.8,340.9" stroke="rgb(35,209,35)" stroke-width="1.3" stroke-opacity="0.56"/>
<path d="M108.0,351.5 C103.6,344.0 107.1,334.9 103.3,327.3" stroke="rgb(35,186,35)" stroke-width="2.6" stroke-opacity="0.60"/>
<path d="M83.5,268.2 C83.2,264.7 84.7,267.0 85.6,267.5" stroke="rgb(35,178,35)" stroke-width="2.6" stroke-opacity="0.75"/>
<path d="M96.9,249.6 C100.5,248.1 104.3,248.6 108.0,248.9" stroke="rgb(35,205,35)" stroke-width="2.6" stroke-opacity="0.79"/>
<path d="M165.5,98.2 C162.4,103.0 158.2,104.5 152.7,102.8" stroke="rgb(35,176,35)" stroke-width="2.4" stroke-opacity="0.64"/>
<path d="M154.3,258.1 C160.9,263.7 169.5,267.0 173.6,275.4" stroke="rgb(35,222,35)" stroke-width="1.7" stroke-opacity="0.60"/>
<path d="M265.9,25.8 C275.9,21.9 286.2,20.9 296.8,21.4" stroke="rgb(35,187,35)" stroke-width="1.5" stroke-opacity="0.58"/>
<path d="M200.7,90.6 C210.4,88.1 220.3,87.0 230.3,87.5" stroke="rgb(35,199,35)" stroke-width="1.9" stroke-opacity="0.58"/>
<path d="M200.7,90.6 C199.4,94.5 199.7,99.3 194.7,101.1" stroke="rgb(35,190,35)" stroke-width="2.3" stroke-opacity="0.54"/>
<path d="M222.5,124.6 C230.4,120.4 232.5,110.1 241.2,106.8" stroke="rgb(35,222,35)" stroke-width="2.2" stroke-opacity="0.94"/>
<path d="M230.3,87.5 C233.1,94.4 240.5,98.7 241.2,106.8" stroke="rgb(35,221,35)" stroke-width="1.6" stroke-opacity="0.73"/>
<path d="M234.1,67.2 C225.9,63.0 219.7,56.0 211.9,51.1" stroke="rgb(35,200,35)" stroke-width="2.1" stroke-opacity="0.96"/>
<path d="M217.8,26.8 C213.8,34.4 215.4,43.4 211.9,51.1" stroke="rgb(35,173,35)" stroke-width="2.2" stroke-opacity="0.68"/>
<path d="M263.9,38.8 C261.1,38.9 261.9,42.0 260.4,43.2" stroke="rgb(35,220,35)" stroke-width="2.1" stroke-opacity="0.72"/>
<path d="M39.1,189.9 C47.6,194.0 55.5,199.2 62.5,205.5" stroke="rgb(35,161,35)" stroke-width="1.4" stroke-opacity="0.53"/>
<path d="M39.1,189.9 C31.2,194.7 27.7,202.9 23.1,210.2" stroke="rgb(35,163,35)" stroke-width="1.4" stroke-opacity="1.00"/>
<path d="M211.9,51.1 C211.5,54.6 207.2,49.2 207.1,53.3" stroke="rgb(35,193,35)" stroke-width="1.4" stroke-opacity="0.87"/>
<path d="M200.7,90.6 C202.8,84.1 196.8,79.9 196.0,74.3" stroke="rgb(35,203,35)" stroke-width="2.4" stroke-opacity="0.50"/>
<path d="M165.5,98.2 C169.5,103.3 175.3,105.2 181.0,107.5" stroke="rgb(35,175,35)" stroke-width="1.8" stroke-opacity="0.93"/>
<path d="M230.3,87.5 C229.6,80.4 232.8,74.0 234.1,67.2" stroke="rgb(35,191,35)" stroke-width="1.5" stroke-opacity="0.64"/>
<path d="M180.3,125.1 C182.0,119.3 180.6,113.3 181.0,107.5" stroke="rgb(35,179,35)" stroke-width="2.1" stroke-opacity="0.56"/>
<path d="M180.3,125.1 C182.0,131.1 186.7,135.0 190.9,139.1" stroke="rgb(35,178,35)" stroke-width="2.3" stroke-opacity="0.95"/>
<path d="M219.7,135.4 C210.3,138.1 200.2,135.5 190.9,139.1" stroke="rgb(35,212,35)" stroke-width="2.7" stroke-opacity="0.94"/>
<path d="M259.0,133.5 C265.5,136.5 271.5,140.2 277.8,143.5" stroke="rgb(35,223,35)" stroke-width="2.7" stroke-opacity="0.56"/>
<path d="M277.8,143.5 C277.3,150.7 272.7,157.4 274.9,164.9" stroke="rgb(35,197,35)" stroke-width="1.6" stroke-opacity="0.69"/>
<path d="M254.0,108.7 C259.3,108.3 262.2,103.0 267.3,102.2" stroke="rgb(35,225,35)" stroke-width="2.7" stroke-opacity="0.93"/>
<path d="M254.0,108.7 C252.2,117.6 255.3,125.6 259.0,133.5" stroke="rgb(35,192,35)" stroke-width="2.2" stroke-opacity="0.99"/>
<path d="M219.7,135.4 C224.3,142.8 229.5,149.8 232.0,158.3" stroke="rgb(35,186,35)" stroke-width="1.9" stroke-opacity="0.54"/>
<path d="M276.8,174.5 C275.7,172.5 278.2,170.7 277.0,168.7" stroke="rgb(35,198,35)" stroke-width="2.2" stroke-opacity="0.70"/>
<path d="M277.0,168.7 C274.0,168.8 275.0,166.5 274.9,164.9" stroke="rgb(35,185,35)" stroke-width="2.6" stroke-opacity="0.59"/>
<path d="M254.4,201.4 C252.9,202.8 250.9,202.7 249.0,202.9" stroke="rgb(35,176,35)" stroke-width="2.4" stroke-opacity="0.60"/>
<path d="M230.1,163.2 C231.8,162.0 228.6,158.9 232.0,158.3" stroke="rgb(35,189,35)" stroke-width="2.5" stroke-opacity="0.94"/>
<path d="M293.8,278.5 C294.0,285.2 299.9,289.5 301.0,295.8" stroke="rgb(35,182,35)" stroke-width="1.6" stroke-opacity="0.69"/>
<path d="M329.1,246.4 C331.1,243.0 327.8,245.4 327.3,244.8" stroke="rgb(35,163,35)" stroke-width="1.6" stroke-opacity="0.98"/>
<path d="M173.6,275.4 C182.3,276.0 189.9,272.4 197.6,269.2" stroke="rgb(35,193,35)" stroke-width="2.3" stroke-opacity="0.77"/>
<path d="M304.5,11.1 C311.7,17.0 321.4,18.5 328.6,24.5" stroke="rgb(35,167,35)" stroke-width="1.4" stroke-opacity="0.81"/>
<path d="M331.9,43.9 C334.4,36.8 331.8,30.6 328.6,24.5" stroke="rgb(35,221,35)" stroke-width="1.9" stroke-opacity="0.55"/>
<path d="M296.8,21.4 C302.5,20.3 301.1,13.9 304.5,11.1" stroke="rgb(35,174,35)" stroke-width="2.2" stroke-opacity="0.61"/>
<path d="M14.7,246.3 C21.3,242.1 20.9,232.7 27.7,228.6" stroke="rgb(35,210,35)" stroke-width="1.4" stroke-opacity="0.78"/>
<path d="M23.1,210.2 C22.0,217.0 29.9,221.6 27.7,228.6" stroke="rgb(35,177,35)" stroke-width="2.5" stroke-opacity="0.80"/>
<path d="M66.9,220.1 C66.4,222.6 64.6,223.7 62.2,223.9" stroke="rgb(35,160,35)" stroke-width="1.4" stroke-opacity="0.51"/>
<path d="M194.1,166.8 C202.0,169.5 209.9,171.9 218.4,169.3" stroke="rgb(35,219,35)" stroke-width="2.0" stroke-opacity="0.53"/>
<path d="M194.1,166.8 C189.7,171.6 187.9,177.7 185.7,183.6" stroke="rgb(35,169,35)" stroke-width="2.4" stroke-opacity="0.83"/>
<path d="M218.4,169.3 C211.7,178.5 207.6,188.8 206.1,200.0" stroke="rgb(35,197,35)" stroke-width="2.3" stroke-opacity="0.98"/>
<path d="M185.7,183.6 C192.0,188.5 191.0,197.6 196.5,203.0" stroke="rgb(35,212,35)" stroke-width="2.0" stroke-opacity="0.90"/>
<path d="M206.1,200.0 C203.4,202.8 200.3,204.0 196.5,203.0" stroke="rgb(35,176,35)" stroke-width="1.9" stroke-opacity="0.75"/>
<path d="M249.0,202.9 C245.1,204.9 244.6,209.5 242.0,212.6" stroke="rgb(35,215,35)" stroke-width="1.8" stroke-opacity="0.72"/>
<path d="M240.0,232.2 C239.8,225.6 237.7,218.8 242.0,212.6" stroke="rgb(35,161,35)" stroke-width="2.7" stroke-opacity="0.78"/>
<path d="M152.7,102.8 C148.1,105.3 145.5,109.4 143.7,114.2" stroke="rgb(35,182,35)" stroke-width="2.5" stroke-opacity="0.66"/>
<path d="M180.3,125.1 C170.6,128.4 162.2,134.6 152.3,137.4" stroke="rgb(35,216,35)" stroke-width="1.7" stroke-opacity="0.62"/>
<path d="M314.8,247.0 C318.8,245.5 322.8,243.8 327.3,244.8" stroke="rgb(35,219,35)" stroke-width="2.4" stroke-opacity="0.60"/>
<path d="M303.6,197.4 C307.9,198.2 311.3,194.0 315.7,195.1" stroke="rgb(35,171,35)" stroke-width="2.0" stroke-opacity="0.86"/>
<path d="M311.7,131.9 C309.5,134.5 311.2,135.0 313.5,135.2" stroke="rgb(35,173,35)" stroke-width="1.6" stroke-opacity="0.98"/>
<path d="M310.5,160.3 C311.0,156.6 311.8,153.1 315.5,151.1" stroke="rgb(35,161,35)" stroke-width="2.6" stroke-opacity="0.59"/>
<path d="M300.8,49.7 C303.0,54.3 305.8,58.3 311.0,59.9" stroke="rgb(35,219,35)" stroke-width="1.9" stroke-opacity="0.73"/>
<path d="M331.9,43.9 C334.6,46.3 334.0,46.9 330.7,46.1" stroke="rgb(35,208,35)" stroke-width="1.7" stroke-opacity="0.81"/>
<path d="M297.6,259.7 C298.9,263.1 293.7,263.1 294.2,266.1" stroke="rgb(35,222,35)" stroke-width="2.8" stroke-opacity="0.67"/>
<path d="M297.6,259.7 C291.4,250.6 282.5,244.4 273.7,238.0" stroke="rgb(35,187,35)" stroke-width="2.4" stroke-opacity="0.81"/>
<path d="M273.7,238.0 C263.9,236.0 255.2,241.1 245.9,242.2" stroke="rgb(35,202,35)" stroke-width="1.4" stroke-opacity="0.66"/>
<path d="M245.9,242.2 C249.7,246.0 244.2,250.1 246.2,253.9" stroke="rgb(35,206,35)" stroke-width="1.5" stroke-opacity="0.65"/>
<path d="M246.2,253.9 C244.6,257.8 251.6,256.4 250.1,260.3" stroke="rgb(35,220,35)" stroke-width="1.5" stroke-opacity="0.88"/>
<path d="M314.8,247.0 C306.9,248.3 302.8,254.8 297.6,259.7" stroke="rgb(35,190,35)" stroke-width="1.9" stroke-opacity="0.90"/>
<path d="M287.8,217.7 C285.1,225.9 278.2,231.1 273.7,238.0" stroke="rgb(35,220,35)" stroke-width="2.2" stroke-opacity="0.54"/>
<path d="M240.0,232.2 C240.9,236.2 240.7,240.7 245.9,242.2" stroke="rgb(35,220,35)" stroke-width="1.4" stroke-opacity="0.63"/>
<path d="M150.0,144.0 C142.9,142.8 137.3,150.2 130.0,147.5" stroke="rgb(35,203,35)" stroke-width="1.9" stroke-opacity="0.88"/>
<path d="M150.0,144.0 C156.4,147.5 158.3,153.8 160.2,160.1" stroke="rgb(35,206,35)" stroke-width="2.3" stroke-opacity="0.81"/>
<path d="M130.0,147.5 C126.7,156.9 125.1,166.6 124.9,176.6" stroke="rgb(35,169,35)" stroke-width="1.3" stroke-opacity="0.52"/>
<path d="M160.2,160.1 C160.5,163.5 155.5,166.0 158.4,169.9" stroke="rgb(35,188,35)" stroke-width="2.6" stroke-opacity="0.67"/>
<path d="M158.4,169.9 C153.0,172.8 146.8,174.6 143.7,180.7" stroke="rgb(35,167,35)" stroke-width="2.1" stroke-opacity="0.64"/>
<path d="M143.7,180.7 C138.0,176.9 130.3,181.8 124.9,176.6" stroke="rgb(35,176,35)" stroke-width="1.6" stroke-opacity="0.79"/>
<path d="M185.9,153.3 C177.1,154.7 168.6,157.1 160.2,160.1" stroke="rgb(35,192,35)" stroke-width="1.7" stroke-opacity="0.52"/>
<path d="M149.2,206.6 C145.5,198.4 149.2,188.6 143.7,180.7" stroke="rgb(35,195,35)" stroke-width="2.8" stroke-opacity="0.94"/>
<path d="M315.5,151.1 C320.3,154.4 326.5,154.5 331.0,158.4" stroke="rgb(35,218,35)" stroke-width="2.7" stroke-opacity="0.78"/>
<path d="M319.8,196.7 C324.8,189.5 334.3,186.7 338.2,178.3" stroke="rgb(35,189,35)" stroke-width="1.6" stroke-opacity="0.55"/>
<path d="M358.9,76.7 C349.0,77.3 342.7,85.2 334.3,89.0" stroke="rgb(35,172,35)" stroke-width="2.3" stroke-opacity="0.86"/>
<path d="M313.9,117.2 C315.9,107.4 317.3,97.4 319.5,87.7" stroke="rgb(35,174,35)" stroke-width="2.5" stroke-opacity="0.81"/>
<path d="M319.5,87.7 C313.7,83.1 313.2,75.2 308.2,70.1" stroke="rgb(35,209,35)" stroke-width="2.2" stroke-opacity="0.89"/>
<path d="M308.2,70.1 C298.3,71.3 289.5,74.9 281.6,81.1" stroke="rgb(35,177,35)" stroke-width="1.6" stroke-opacity="0.83"/>
<path d="M281.6,81.1 C278.2,83.7 274.1,86.0 274.4,91.3" stroke="rgb(35,221,35)" stroke-width="1.4" stroke-opacity="0.65"/>
<path d="M314.6,120.9 C313.7,119.8 317.6,117.7 313.9,117.2" stroke="rgb(35,191,35)" stroke-width="2.6" stroke-opacity="0.79"/>
<path d="M267.3,102.2 C268.0,98.8 269.3,95.9 273.2,95.0" stroke="rgb(35,188,35)" stroke-width="2.1" stroke-opacity="0.70"/>
</g>
<g filter="url(#gb)" fill="none" stroke-linecap="round">
<path d="M238.8,39.1 L237.0,37.8 L234.4,35.9 L231.9,33.7 L230.2,31.2 L229.6,28.4 L229.6,25.2 L230.1,22.0 L231.1,19.2 L232.7,16.7 L234.9,14.2 L237.5,12.3 L240.1,11.3 L242.8,11.5 L245.8,12.6 L248.8,14.3 L251.4,16.2 L253.8,18.4 L256.2,21.1 L257.9,24.0 L258.5,26.5 L257.5,28.9 L255.2,31.2 L252.4,33.3 L249.7,35.0 L246.9,36.5 L243.7,37.6 L240.8,38.5 L238.8,39.1" stroke="rgb(40,224,40)" stroke-width="1.8" stroke-opacity="0.99" stroke-dasharray="17,16"/>
<path d="M356.8,32.8 L355.0,33.6 L352.4,34.7 L349.5,35.6 L346.8,35.7 L344.3,34.7 L341.7,33.1 L339.4,31.0 L337.8,28.6 L336.6,25.7 L335.9,22.2 L335.8,18.8 L336.5,16.1 L338.3,14.2 L341.0,12.8 L344.1,11.8 L347.0,11.3 L349.7,11.3 L352.5,11.7 L355.1,12.6 L357.2,13.9 L358.9,15.7 L360.3,18.0 L361.3,20.5 L361.6,22.9 L360.9,25.6 L359.5,28.4 L357.9,31.0 L356.8,32.8" stroke="rgb(40,177,40)" stroke-width="2.1" stroke-opacity="0.74" stroke-dasharray="35,13"/>
<path d="M280.9,40.0 L280.0,38.5 L278.6,36.5 L277.4,34.2 L276.9,32.0 L277.5,29.8 L278.8,27.5 L280.5,25.3 L282.4,23.6 L284.6,22.2 L287.3,21.0 L289.9,20.4 L292.1,20.6 L293.9,22.0 L295.4,24.2 L296.7,26.9 L297.7,29.4 L298.5,31.9 L299.1,34.5 L299.3,37.0 L298.7,39.2 L297.2,41.1 L295.0,42.8 L292.4,44.1 L289.9,44.6 L287.5,44.1 L284.9,42.6 L282.6,41.0 L280.9,40.0" stroke="rgb(40,170,40)" stroke-width="2.5" stroke-opacity="0.83" stroke-dasharray="21,4"/>
<path d="M312.2,44.2 L309.7,44.3 L306.2,44.4 L302.5,44.2 L299.7,43.1 L297.8,40.8 L296.4,37.6 L295.4,34.0 L295.0,30.7 L295.2,27.3 L295.8,23.8 L297.0,20.7 L298.7,18.6 L301.1,17.6 L304.2,17.6 L307.5,18.1 L310.3,18.8 L312.5,19.7 L314.5,21.0 L316.2,22.6 L317.7,24.5 L319.1,27.0 L320.5,29.9 L321.3,32.9 L321.2,35.7 L319.6,38.2 L316.9,40.6 L314.1,42.8 L312.2,44.2" stroke="rgb(40,194,40)" stroke-width="2.1" stroke-opacity="0.69" stroke-dasharray="27,13"/>
<path d="M223.1,82.7 L221.3,83.8 L218.7,85.5 L215.8,87.1 L213.1,87.9 L210.4,87.8 L207.6,87.1 L205.0,86.0 L203.1,84.4 L201.9,82.1 L201.3,79.2 L201.1,76.1 L201.5,73.5 L202.3,71.4 L203.7,69.6 L205.5,68.0 L207.4,66.6 L209.8,65.3 L212.5,64.1 L215.2,63.4 L217.4,63.6 L219.3,65.0 L220.8,67.5 L222.1,70.3 L223.0,73.0 L223.4,75.6 L223.4,78.4 L223.2,80.9 L223.1,82.7" stroke="rgb(40,209,40)" stroke-width="1.9" stroke-opacity="0.90" stroke-dasharray="24,15"/>
<path d="M181.8,96.4 L180.0,95.7 L177.3,94.6 L174.6,93.2 L172.6,91.5 L171.4,89.1 L170.7,86.2 L170.6,83.2 L170.9,80.5 L172.0,77.9 L173.7,75.3 L175.7,73.1 L178.0,71.5 L180.6,70.6 L183.7,70.3 L186.7,70.5 L189.3,71.5 L191.7,73.4 L193.9,76.1 L195.6,79.1 L196.5,81.9 L196.2,84.5 L195.0,87.2 L193.3,89.6 L191.4,91.7 L189.1,93.3 L186.3,94.6 L183.7,95.7 L181.8,96.4" stroke="rgb(40,176,40)" stroke-width="1.6" stroke-opacity="0.82" stroke-dasharray="34,11"/>
<path d="M142.3,75.1 L144.0,74.2 L146.5,72.8 L149.2,71.7 L151.7,71.5 L154.2,72.5 L156.8,74.4 L159.0,76.7 L160.5,79.1 L161.0,81.6 L160.8,84.5 L160.0,87.3 L158.9,89.6 L157.2,91.2 L155.0,92.5 L152.6,93.3 L150.2,93.9 L147.7,94.3 L145.0,94.5 L142.5,94.3 L140.4,93.4 L138.5,91.5 L136.8,88.9 L135.7,86.1 L135.4,83.5 L136.5,81.1 L138.6,78.7 L140.8,76.6 L142.3,75.1" stroke="rgb(40,190,40)" stroke-width="1.8" stroke-opacity="0.97" stroke-dasharray="30,8"/>
<path d="M255.1,82.4 L253.8,81.0 L252.0,79.0 L250.2,76.7 L249.1,74.3 L248.6,71.7 L248.6,68.8 L249.1,66.0 L250.1,63.8 L251.8,62.2 L254.2,61.0 L256.8,60.2 L259.4,59.8 L262.1,59.7 L265.0,60.0 L267.7,60.8 L269.8,62.2 L271.3,64.5 L272.4,67.5 L272.9,70.8 L272.8,73.8 L271.8,76.7 L270.1,79.5 L268.0,82.0 L265.7,83.6 L263.1,84.0 L260.0,83.6 L257.1,82.9 L255.1,82.4" stroke="rgb(40,205,40)" stroke-width="2.5" stroke-opacity="0.76" stroke-dasharray="38,10"/>
<path d="M247.4,93.6 L245.8,92.5 L243.5,91.0 L241.2,89.1 L239.5,87.0 L238.5,84.3 L237.9,81.1 L237.9,78.0 L238.6,75.3 L240.4,73.2 L243.1,71.4 L246.1,70.1 L249.0,69.5 L251.9,69.6 L254.9,70.4 L257.8,71.8 L260.1,73.4 L261.9,75.6 L263.4,78.2 L264.4,81.1 L264.6,83.8 L263.8,86.5 L262.2,89.4 L260.2,91.9 L258.0,93.7 L255.4,94.4 L252.3,94.3 L249.4,93.9 L247.4,93.6" stroke="rgb(40,223,40)" stroke-width="1.7" stroke-opacity="0.97" stroke-dasharray="20,11"/>
<path d="M288.5,49.5 L289.7,51.2 L291.6,53.6 L293.2,56.3 L293.9,58.7 L293.3,61.1 L291.9,63.6 L289.9,65.9 L287.8,67.5 L285.4,68.4 L282.5,68.9 L279.6,68.9 L276.9,68.4 L274.2,67.4 L271.5,65.8 L269.2,64.0 L268.0,61.9 L268.1,59.5 L269.2,56.6 L270.8,53.8 L272.5,51.5 L274.1,49.5 L275.9,47.7 L277.9,46.3 L279.9,45.7 L282.1,46.1 L284.6,47.3 L286.9,48.6 L288.5,49.5" stroke="rgb(40,195,40)" stroke-width="1.5" stroke-opacity="0.93" stroke-dasharray="23,16"/>
<path d="M338.5,59.7 L340.0,60.9 L342.2,62.6 L344.6,64.6 L346.6,66.7 L348.4,68.9 L350.2,71.3 L351.5,73.8 L351.7,76.1 L350.7,78.3 L348.8,80.6 L346.3,82.5 L343.7,83.9 L340.9,84.7 L337.8,85.1 L334.7,84.9 L332.1,84.2 L329.9,82.7 L328.0,80.4 L326.5,77.9 L325.6,75.3 L325.4,72.5 L325.8,69.4 L326.7,66.4 L328.1,64.0 L330.4,62.4 L333.4,61.2 L336.4,60.3 L338.5,59.7" stroke="rgb(40,207,40)" stroke-width="1.6" stroke-opacity="0.64" stroke-dasharray="25,17"/>
<path d="M131.5,109.0 L129.9,108.0 L127.6,106.6 L125.2,104.9 L123.6,102.9 L122.7,100.7 L122.2,98.1 L122.2,95.5 L122.9,93.2 L124.4,91.2 L126.7,89.2 L129.2,87.6 L131.7,86.8 L134.1,86.8 L136.7,87.4 L139.1,88.6 L141.1,90.0 L142.6,91.7 L143.7,93.9 L144.4,96.3 L144.8,98.7 L144.7,101.4 L144.2,104.3 L143.3,106.9 L141.9,108.8 L139.6,109.6 L136.5,109.5 L133.5,109.2 L131.5,109.0" stroke="rgb(40,209,40)" stroke-width="2.0" stroke-opacity="0.77" stroke-dasharray="39,13"/>
<path d="M171.8,114.5 L171.7,116.3 L171.5,119.0 L171.2,121.9 L170.4,124.2 L169.1,125.9 L167.4,127.3 L165.5,128.4 L163.4,129.2 L161.0,129.8 L158.2,130.2 L155.6,130.2 L153.6,129.5 L152.3,127.8 L151.4,125.3 L150.9,122.5 L150.7,119.9 L150.9,117.1 L151.4,114.1 L152.3,111.4 L153.6,109.4 L155.7,108.4 L158.3,108.0 L161.1,108.1 L163.7,108.5 L166.0,109.7 L168.4,111.4 L170.4,113.2 L171.8,114.5" stroke="rgb(40,191,40)" stroke-width="1.8" stroke-opacity="0.99" stroke-dasharray="35,9"/>
<path d="M212.7,113.3 L213.4,116.1 L214.4,120.1 L215.0,124.3 L214.7,127.7 L212.9,130.1 L210.1,132.0 L206.9,133.4 L203.7,134.5 L200.4,135.3 L196.9,135.7 L193.4,135.6 L190.5,134.6 L187.9,132.3 L185.6,129.1 L184.0,125.5 L183.4,122.4 L184.3,119.7 L186.3,117.0 L188.8,114.7 L191.3,112.7 L193.7,111.0 L196.4,109.7 L199.1,108.8 L201.8,108.5 L204.8,109.2 L207.9,110.6 L210.8,112.2 L212.7,113.3" stroke="rgb(40,182,40)" stroke-width="2.6" stroke-opacity="0.99" stroke-dasharray="30,8"/>
<path d="M133.6,113.9 L136.2,115.0 L139.9,116.4 L143.7,118.2 L146.4,120.4 L148.0,123.2 L149.0,126.5 L149.2,129.9 L148.8,132.8 L147.4,135.4 L145.1,137.7 L142.4,139.7 L139.7,141.3 L137.1,142.4 L134.3,143.2 L131.5,143.5 L128.7,143.0 L125.8,141.6 L122.7,139.4 L120.1,136.7 L118.4,133.9 L118.0,130.8 L118.4,127.2 L119.5,123.7 L121.2,120.8 L123.9,118.5 L127.6,116.5 L131.2,115.0 L133.6,113.9" stroke="rgb(40,223,40)" stroke-width="2.0" stroke-opacity="0.83" stroke-dasharray="34,8"/>
<path d="M277.8,120.4 L277.7,118.1 L277.6,114.8 L277.7,111.4 L278.4,108.7 L279.9,107.0 L282.0,105.8 L284.5,104.9 L287.1,104.2 L289.9,103.3 L293.1,102.5 L296.2,102.2 L298.7,102.8 L300.8,104.7 L302.4,107.6 L303.6,110.9 L304.0,114.0 L303.5,117.0 L302.2,120.1 L300.4,123.0 L298.3,125.0 L295.8,126.0 L292.9,126.4 L289.8,126.2 L286.9,125.7 L284.3,124.7 L281.7,123.1 L279.4,121.5 L277.8,120.4" stroke="rgb(40,179,40)" stroke-width="1.8" stroke-opacity="0.61" stroke-dasharray="22,7"/>
<path d="M304.9,93.3 L305.8,94.9 L307.2,97.1 L308.4,99.6 L308.7,101.7 L307.9,103.6 L306.3,105.5 L304.4,107.0 L302.4,108.0 L300.2,108.4 L297.7,108.3 L295.2,107.8 L293.1,107.0 L291.4,105.7 L289.9,104.0 L288.8,102.1 L288.3,100.3 L288.5,98.5 L289.4,96.7 L290.6,94.9 L291.9,93.2 L293.4,91.4 L295.2,89.4 L297.1,87.9 L298.8,87.3 L300.5,88.1 L302.3,89.9 L303.8,92.0 L304.9,93.3" stroke="rgb(40,175,40)" stroke-width="2.0" stroke-opacity="0.84" stroke-dasharray="23,4"/>
<path d="M341.1,95.6 L342.5,97.0 L344.4,99.1 L346.3,101.5 L347.2,103.8 L347.0,106.0 L346.0,108.4 L344.5,110.7 L342.9,112.8 L341.1,115.1 L338.9,117.5 L336.6,119.3 L334.4,120.0 L332.4,119.0 L330.5,116.8 L328.7,114.1 L327.1,111.6 L325.7,109.1 L324.3,106.6 L323.5,104.1 L323.4,101.9 L324.5,99.8 L326.4,97.9 L328.8,96.3 L331.1,95.3 L333.7,94.9 L336.6,95.0 L339.3,95.4 L341.1,95.6" stroke="rgb(40,203,40)" stroke-width="1.8" stroke-opacity="0.90" stroke-dasharray="24,5"/>
<path d="M338.9,95.7 L339.5,94.1 L340.4,91.6 L341.6,89.2 L343.1,87.4 L345.0,86.3 L347.3,85.8 L349.7,85.6 L351.8,85.9 L353.7,86.7 L355.6,88.0 L357.1,89.6 L358.2,91.3 L358.7,93.2 L358.8,95.3 L358.5,97.5 L357.9,99.6 L356.9,101.6 L355.5,103.6 L353.9,105.3 L352.1,106.3 L350.1,106.5 L347.9,105.9 L345.6,104.9 L343.7,103.6 L342.1,101.8 L340.8,99.5 L339.7,97.3 L338.9,95.7" stroke="rgb(40,231,40)" stroke-width="2.2" stroke-opacity="0.85" stroke-dasharray="33,16"/>
<path d="M340.9,140.0 L339.0,139.4 L336.4,138.5 L333.6,137.3 L331.4,135.7 L329.7,133.5 L328.2,130.8 L327.3,127.9 L327.1,125.3 L327.8,123.0 L329.2,120.6 L331.1,118.6 L333.2,117.2 L335.6,116.3 L338.3,115.9 L341.1,116.0 L343.7,116.5 L346.1,117.6 L348.5,119.1 L350.5,120.9 L351.7,122.9 L351.7,125.2 L351.0,127.7 L349.8,130.3 L348.5,132.6 L346.7,134.8 L344.5,136.9 L342.3,138.7 L340.9,140.0" stroke="rgb(40,198,40)" stroke-width="2.2" stroke-opacity="0.68" stroke-dasharray="27,8"/>
<path d="M275.7,113.5 L277.1,115.0 L279.2,117.0 L281.3,119.5 L282.9,121.9 L284.1,124.6 L285.0,127.5 L285.5,130.4 L285.0,132.9 L283.4,135.1 L280.8,137.1 L277.9,138.7 L275.0,139.7 L272.1,140.0 L268.9,139.7 L266.0,138.9 L263.7,137.5 L262.1,135.4 L261.1,132.6 L260.6,129.5 L260.6,126.8 L261.2,124.2 L262.4,121.7 L264.1,119.5 L265.9,117.6 L268.3,116.1 L271.1,115.0 L273.8,114.1 L275.7,113.5" stroke="rgb(40,204,40)" stroke-width="2.6" stroke-opacity="0.90" stroke-dasharray="29,11"/>
<path d="M247.1,143.4 L244.8,143.7 L241.5,144.3 L238.0,144.5 L235.1,143.8 L233.0,142.0 L231.3,139.3 L230.1,136.2 L229.6,133.2 L230.0,130.1 L231.2,126.8 L232.9,123.7 L235.0,121.3 L237.5,119.7 L240.6,118.5 L243.9,118.0 L246.8,118.2 L249.5,119.4 L252.2,121.4 L254.5,123.9 L256.0,126.4 L256.7,129.1 L256.6,132.1 L256.1,135.0 L255.1,137.5 L253.4,139.4 L251.1,141.1 L248.7,142.5 L247.1,143.4" stroke="rgb(40,235,40)" stroke-width="2.2" stroke-opacity="0.88" stroke-dasharray="23,10"/>
<path d="M152.7,154.7 L152.7,157.0 L152.6,160.2 L152.3,163.7 L151.5,166.7 L150.2,169.3 L148.4,171.7 L146.4,173.6 L144.2,174.9 L141.6,175.2 L138.7,174.9 L135.9,174.0 L133.5,172.8 L131.6,171.1 L129.9,169.0 L128.6,166.5 L127.8,164.1 L127.6,161.5 L127.8,158.7 L128.5,155.9 L129.9,153.5 L132.2,151.2 L135.2,149.0 L138.5,147.3 L141.6,146.8 L144.7,147.9 L147.9,150.3 L150.7,152.9 L152.7,154.7" stroke="rgb(40,228,40)" stroke-width="1.8" stroke-opacity="0.62" stroke-dasharray="24,6"/>
<path d="M181.9,137.8 L181.8,139.6 L181.7,142.2 L181.4,145.2 L180.6,147.8 L179.4,150.4 L177.8,153.1 L175.9,155.4 L173.7,156.8 L171.0,157.2 L167.7,156.8 L164.5,155.8 L162.0,154.2 L160.2,151.8 L158.8,148.7 L157.9,145.3 L157.7,142.2 L158.3,139.3 L159.7,136.3 L161.5,133.7 L163.6,131.7 L166.1,130.3 L169.0,129.4 L172.0,129.1 L174.7,129.5 L176.9,131.0 L179.0,133.5 L180.7,136.0 L181.9,137.8" stroke="rgb(40,214,40)" stroke-width="1.6" stroke-opacity="0.69" stroke-dasharray="39,17"/>
<path d="M217.4,152.1 L216.5,154.0 L215.3,156.6 L213.8,159.4 L212.1,161.7 L210.1,163.4 L207.9,164.9 L205.5,165.9 L203.3,166.2 L201.0,165.6 L198.7,164.4 L196.6,162.7 L195.0,160.8 L193.8,158.5 L193.0,155.7 L192.6,153.0 L192.9,150.7 L194.0,149.0 L195.9,147.6 L198.1,146.5 L200.3,145.7 L202.5,145.1 L204.8,144.8 L207.1,144.8 L209.3,145.3 L211.6,146.7 L213.9,148.7 L216.0,150.7 L217.4,152.1" stroke="rgb(40,196,40)" stroke-width="1.8" stroke-opacity="0.90" stroke-dasharray="17,6"/>
<path d="M177.2,179.7 L175.8,179.0 L173.8,178.0 L171.6,176.7 L169.8,175.1 L168.2,172.9 L166.6,170.3 L165.6,167.7 L165.6,165.5 L167.0,163.8 L169.5,162.4 L172.4,161.3 L175.1,160.4 L177.6,159.6 L180.3,158.9 L182.8,158.6 L184.9,159.2 L186.6,160.8 L188.0,163.2 L189.0,166.0 L189.6,168.6 L189.7,171.2 L189.3,173.9 L188.6,176.4 L187.3,178.2 L185.1,179.2 L182.1,179.6 L179.2,179.7 L177.2,179.7" stroke="rgb(40,179,40)" stroke-width="2.2" stroke-opacity="0.79" stroke-dasharray="31,12"/>
<path d="M251.5,140.5 L253.3,139.8 L255.8,138.8 L258.6,137.9 L261.3,137.6 L264.0,137.8 L266.9,138.4 L269.5,139.4 L271.3,140.8 L272.0,142.9 L272.0,145.6 L271.6,148.4 L270.9,151.0 L270.2,153.5 L269.2,156.0 L267.9,158.2 L266.3,159.6 L264.2,160.0 L261.7,159.6 L259.1,158.8 L256.8,157.7 L254.7,156.4 L252.6,154.8 L250.8,153.0 L249.8,150.9 L249.6,148.3 L250.2,145.3 L251.0,142.5 L251.5,140.5" stroke="rgb(40,171,40)" stroke-width="1.7" stroke-opacity="0.64" stroke-dasharray="20,14"/>
<path d="M281.4,157.9 L281.0,155.9 L280.5,152.9 L280.3,149.8 L280.8,147.1 L282.3,144.9 L284.6,142.9 L287.2,141.3 L289.7,140.5 L292.1,140.8 L294.6,141.9 L296.9,143.4 L298.9,145.0 L300.4,146.6 L301.7,148.6 L302.5,150.6 L302.8,152.6 L302.5,154.5 L301.6,156.5 L300.3,158.5 L298.8,160.3 L296.9,162.3 L294.5,164.3 L292.0,165.8 L289.7,166.3 L287.4,165.0 L285.0,162.5 L282.8,159.7 L281.4,157.9" stroke="rgb(40,206,40)" stroke-width="2.4" stroke-opacity="0.94" stroke-dasharray="37,18"/>
<path d="M348.3,145.8 L347.8,147.4 L347.1,149.6 L346.2,151.9 L345.0,153.7 L343.3,155.1 L341.3,156.2 L339.2,156.9 L337.0,157.1 L334.7,156.7 L332.2,155.7 L329.9,154.3 L328.3,152.7 L327.5,150.6 L327.3,148.0 L327.6,145.5 L328.2,143.2 L329.3,141.2 L330.9,139.3 L332.7,137.7 L334.6,136.8 L336.7,136.5 L338.9,136.7 L341.2,137.3 L343.1,138.3 L344.8,140.0 L346.3,142.2 L347.5,144.4 L348.3,145.8" stroke="rgb(40,200,40)" stroke-width="2.3" stroke-opacity="0.66" stroke-dasharray="18,16"/>
<path d="M342.2,153.5 L343.9,154.4 L346.4,155.6 L349.0,157.1 L350.9,158.8 L352.1,160.9 L353.0,163.1 L353.4,165.5 L353.2,167.7 L352.3,169.8 L350.9,172.0 L349.1,173.8 L347.2,174.9 L345.2,175.2 L342.9,174.8 L340.7,174.0 L338.7,173.1 L336.8,172.1 L335.0,171.0 L333.5,169.6 L332.5,168.0 L332.1,166.0 L332.0,163.6 L332.5,161.2 L333.4,159.1 L335.3,157.3 L337.9,155.7 L340.4,154.4 L342.2,153.5" stroke="rgb(40,175,40)" stroke-width="1.8" stroke-opacity="0.91" stroke-dasharray="18,12"/>
<path d="M266.8,173.8 L266.2,175.4 L265.4,177.7 L264.2,180.2 L262.8,182.1 L260.7,183.3 L258.3,184.3 L255.7,184.8 L253.3,184.8 L250.9,184.1 L248.6,182.9 L246.4,181.2 L244.7,179.2 L243.4,176.7 L242.3,173.6 L241.8,170.5 L242.1,167.8 L243.6,165.3 L246.0,163.0 L248.9,161.1 L251.8,160.0 L254.8,160.0 L258.1,160.7 L261.2,162.0 L263.6,163.6 L265.1,165.9 L265.9,168.9 L266.4,171.8 L266.8,173.8" stroke="rgb(40,185,40)" stroke-width="1.8" stroke-opacity="0.80" stroke-dasharray="27,11"/>
<path d="M294.8,165.2 L296.8,164.9 L299.6,164.5 L302.6,164.3 L305.1,164.9 L307.0,166.6 L308.6,169.0 L309.8,171.8 L310.4,174.4 L310.2,177.0 L309.4,179.7 L308.1,182.3 L306.4,184.5 L304.3,186.5 L301.8,188.2 L299.0,189.4 L296.5,189.7 L293.9,188.9 L291.4,187.3 L289.0,185.1 L287.3,182.7 L286.3,179.9 L285.6,176.6 L285.6,173.4 L286.2,170.7 L287.8,168.8 L290.4,167.2 L293.0,166.1 L294.8,165.2" stroke="rgb(40,229,40)" stroke-width="2.0" stroke-opacity="0.76" stroke-dasharray="31,16"/>
<path d="M97.9,200.4 L96.7,202.2 L94.9,204.8 L92.8,207.5 L90.5,209.3 L87.7,210.1 L84.5,210.3 L81.4,209.9 L78.7,209.0 L76.4,207.4 L74.4,205.1 L72.9,202.4 L71.9,199.6 L71.6,196.5 L71.9,192.9 L72.7,189.5 L74.1,186.8 L76.4,184.8 L79.5,183.2 L82.9,182.3 L86.3,182.0 L89.7,182.5 L93.4,183.8 L96.8,185.6 L99.0,187.8 L99.7,190.7 L99.3,194.4 L98.4,197.9 L97.9,200.4" stroke="rgb(40,222,40)" stroke-width="1.6" stroke-opacity="0.97" stroke-dasharray="33,10"/>
<path d="M143.1,190.9 L143.5,193.0 L144.2,196.0 L144.6,199.3 L144.2,202.0 L142.6,204.1 L140.2,206.0 L137.4,207.4 L134.7,208.2 L131.8,208.3 L128.7,207.8 L125.9,206.7 L123.8,205.2 L122.6,203.2 L122.2,200.5 L122.1,197.6 L122.4,194.9 L122.8,192.1 L123.5,189.3 L124.5,186.8 L125.9,185.2 L127.9,184.7 L130.4,185.0 L133.1,185.7 L135.4,186.5 L137.7,187.5 L139.9,188.8 L141.7,190.0 L143.1,190.9" stroke="rgb(40,190,40)" stroke-width="2.5" stroke-opacity="0.62" stroke-dasharray="23,9"/>
<path d="M159.7,180.3 L161.2,180.7 L163.5,181.3 L165.8,182.2 L167.5,183.4 L168.5,185.2 L169.2,187.3 L169.4,189.6 L169.3,191.8 L168.7,194.0 L167.7,196.2 L166.4,198.1 L164.8,199.4 L162.8,199.9 L160.3,199.8 L157.8,199.3 L155.7,198.5 L154.0,197.4 L152.5,195.8 L151.2,194.1 L150.4,192.2 L150.0,190.1 L149.9,187.6 L150.2,185.3 L151.0,183.4 L152.8,182.2 L155.4,181.3 L157.9,180.7 L159.7,180.3" stroke="rgb(40,172,40)" stroke-width="1.8" stroke-opacity="0.97" stroke-dasharray="17,14"/>
<path d="M180.4,204.5 L178.8,204.3 L176.4,204.2 L173.9,203.8 L171.6,203.2 L169.5,202.2 L167.5,201.0 L165.7,199.6 L164.7,197.9 L164.3,195.7 L164.6,193.2 L165.3,190.7 L166.5,188.9 L168.2,188.0 L170.5,187.6 L173.0,187.6 L175.4,187.7 L177.6,187.7 L179.9,188.0 L182.0,188.5 L183.6,189.5 L184.7,191.1 L185.3,193.2 L185.6,195.5 L185.4,197.6 L184.5,199.6 L183.0,201.6 L181.4,203.3 L180.4,204.5" stroke="rgb(40,178,40)" stroke-width="2.0" stroke-opacity="0.69" stroke-dasharray="32,6"/>
<path d="M236.3,195.0 L234.6,196.6 L232.2,198.9 L229.5,201.0 L226.8,202.2 L224.2,202.1 L221.4,201.2 L218.7,199.9 L216.3,198.4 L214.0,196.8 L211.8,195.0 L210.1,193.0 L209.3,191.0 L209.7,188.7 L211.0,186.3 L212.8,183.9 L214.8,181.9 L216.9,180.2 L219.3,178.7 L221.9,177.7 L224.4,177.3 L226.9,177.8 L229.5,178.9 L231.9,180.6 L233.7,182.6 L234.9,185.5 L235.6,189.2 L236.0,192.6 L236.3,195.0" stroke="rgb(40,192,40)" stroke-width="2.0" stroke-opacity="0.62" stroke-dasharray="32,12"/>
<path d="M20.4,184.8 L22.4,185.6 L25.2,186.8 L27.9,188.3 L29.7,190.0 L30.3,192.2 L30.1,194.8 L29.4,197.4 L28.5,199.7 L27.3,201.9 L25.7,204.0 L23.9,205.8 L21.9,206.8 L19.6,206.8 L17.0,206.2 L14.4,205.1 L12.1,203.8 L9.8,202.2 L7.5,200.3 L5.8,198.2 L5.0,196.1 L5.7,193.8 L7.3,191.3 L9.5,188.9 L11.6,187.1 L13.9,186.0 L16.4,185.4 L18.8,185.0 L20.4,184.8" stroke="rgb(40,206,40)" stroke-width="1.6" stroke-opacity="0.79" stroke-dasharray="39,9"/>
<path d="M336.7,178.4 L338.7,178.5 L341.6,178.6 L344.8,178.9 L347.6,179.5 L350.0,180.4 L352.3,181.6 L354.3,183.1 L355.8,184.9 L356.8,187.3 L357.6,190.3 L357.7,193.2 L357.2,195.7 L355.7,197.6 L353.4,199.3 L350.7,200.5 L348.1,201.1 L345.8,201.1 L343.3,200.5 L340.9,199.4 L338.8,198.1 L336.9,196.5 L335.1,194.5 L333.6,192.3 L332.9,189.9 L333.3,187.0 L334.4,183.6 L335.8,180.5 L336.7,178.4" stroke="rgb(40,179,40)" stroke-width="1.7" stroke-opacity="0.87" stroke-dasharray="30,5"/>
<path d="M102.4,215.4 L104.2,214.9 L106.9,214.1 L109.7,213.6 L112.1,213.9 L113.9,215.4 L115.6,217.7 L116.9,220.4 L117.5,222.9 L117.4,225.3 L116.7,227.8 L115.6,230.2 L114.1,232.2 L112.0,233.8 L109.3,235.2 L106.5,236.1 L104.1,236.3 L102.0,235.5 L100.1,233.8 L98.4,231.7 L96.9,229.5 L95.5,227.1 L94.3,224.3 L93.5,221.6 L93.6,219.4 L95.1,217.8 L97.8,216.7 L100.5,215.9 L102.4,215.4" stroke="rgb(40,171,40)" stroke-width="2.5" stroke-opacity="0.66" stroke-dasharray="31,6"/>
<path d="M268.3,237.4 L266.8,236.3 L264.5,234.8 L262.0,233.0 L260.1,230.8 L258.5,228.2 L257.0,225.0 L256.0,221.9 L256.1,219.2 L257.4,216.9 L259.6,214.9 L262.4,213.3 L265.1,212.1 L267.9,211.5 L270.8,211.3 L273.7,211.6 L276.3,212.5 L278.6,214.2 L280.8,216.7 L282.5,219.5 L283.3,222.2 L282.9,224.8 L281.7,227.6 L280.0,230.3 L278.1,232.5 L275.8,234.2 L272.9,235.6 L270.2,236.6 L268.3,237.4" stroke="rgb(40,194,40)" stroke-width="2.3" stroke-opacity="0.90" stroke-dasharray="20,5"/>
<path d="M317.4,213.9 L317.8,215.9 L318.5,218.8 L318.9,221.9 L318.5,224.6 L317.2,226.8 L315.2,228.8 L312.8,230.4 L310.4,231.4 L308.0,231.5 L305.4,231.1 L302.9,230.1 L300.7,228.9 L298.6,227.3 L296.8,225.2 L295.3,223.0 L294.5,220.6 L294.5,217.8 L295.2,214.6 L296.3,211.7 L297.9,209.5 L300.2,208.4 L303.0,207.9 L306.0,207.9 L308.7,208.3 L311.2,209.3 L313.7,211.0 L315.9,212.7 L317.4,213.9" stroke="rgb(40,207,40)" stroke-width="2.1" stroke-opacity="0.82" stroke-dasharray="35,14"/>
<path d="M274.7,236.0 L275.2,233.1 L275.8,228.9 L276.9,224.6 L278.7,221.8 L281.7,220.6 L285.5,220.4 L289.5,220.9 L293.0,221.9 L296.1,223.6 L298.9,226.0 L301.2,228.7 L302.7,231.5 L303.3,234.5 L303.0,237.9 L302.1,241.2 L300.8,243.8 L298.7,245.6 L296.0,247.0 L293.0,247.9 L290.2,248.4 L287.4,248.4 L284.5,248.0 L281.9,247.2 L279.6,245.9 L277.9,243.7 L276.5,240.8 L275.4,237.9 L274.7,236.0" stroke="rgb(40,226,40)" stroke-width="2.3" stroke-opacity="0.74" stroke-dasharray="33,4"/>
<path d="M43.3,252.8 L41.5,252.6 L38.8,252.3 L36.0,251.7 L33.9,250.6 L32.6,248.5 L31.7,245.9 L31.4,243.1 L31.5,240.5 L32.3,238.2 L33.6,236.0 L35.4,234.0 L37.4,232.4 L39.9,231.2 L42.8,230.2 L45.7,229.7 L48.2,230.1 L50.1,231.5 L51.6,233.8 L52.9,236.6 L53.9,239.4 L54.9,242.5 L55.8,246.0 L56.1,249.2 L55.4,251.6 L53.1,252.7 L49.5,252.9 L45.8,252.8 L43.3,252.8" stroke="rgb(40,174,40)" stroke-width="2.3" stroke-opacity="0.98" stroke-dasharray="32,7"/>
<path d="M279.1,242.4 L280.3,243.8 L282.1,245.8 L283.8,248.1 L284.9,250.4 L285.2,252.9 L285.0,255.5 L284.4,258.0 L283.2,260.1 L281.3,261.7 L278.9,263.0 L276.2,263.8 L273.5,264.2 L270.7,264.0 L267.7,263.3 L264.9,262.1 L262.7,260.5 L261.3,258.0 L260.3,254.9 L259.9,251.7 L260.2,248.9 L261.6,246.7 L263.9,244.7 L266.6,243.1 L269.1,242.0 L271.8,241.6 L274.7,241.8 L277.2,242.2 L279.1,242.4" stroke="rgb(40,226,40)" stroke-width="1.6" stroke-opacity="1.00" stroke-dasharray="30,12"/>
<path d="M364.7,239.4 L363.0,239.9 L360.6,240.7 L357.9,241.4 L355.5,241.4 L353.4,240.6 L351.3,239.4 L349.5,237.8 L348.3,236.1 L347.7,234.4 L347.7,232.4 L348.0,230.4 L348.6,228.6 L349.6,226.9 L350.8,225.3 L352.4,224.0 L354.0,223.0 L355.8,222.6 L357.7,222.4 L359.7,222.7 L361.5,223.4 L363.2,224.5 L364.9,226.1 L366.2,228.0 L367.0,230.0 L366.9,232.4 L366.2,235.1 L365.3,237.7 L364.7,239.4" stroke="rgb(40,206,40)" stroke-width="2.4" stroke-opacity="0.75" stroke-dasharray="17,12"/>
<path d="M111.5,264.9 L112.5,266.0 L113.9,267.6 L115.3,269.4 L116.3,271.2 L116.7,273.0 L116.8,274.8 L116.6,276.7 L116.0,278.5 L114.9,280.4 L113.4,282.5 L111.7,284.1 L109.9,285.0 L107.9,284.8 L105.8,283.8 L103.8,282.3 L102.2,280.8 L101.3,279.1 L100.7,277.2 L100.5,275.2 L100.5,273.2 L100.8,271.2 L101.3,269.0 L102.1,267.1 L103.3,265.7 L105.2,265.0 L107.6,264.8 L109.9,264.9 L111.5,264.9" stroke="rgb(40,180,40)" stroke-width="2.4" stroke-opacity="0.69" stroke-dasharray="37,12"/>
<path d="M261.9,281.5 L261.4,279.7 L260.6,277.1 L259.9,274.2 L260.0,271.7 L260.7,269.5 L262.0,267.3 L263.7,265.5 L265.6,264.0 L267.8,263.0 L270.4,262.4 L273.2,262.2 L275.8,262.6 L278.7,263.7 L281.8,265.5 L284.5,267.7 L286.0,270.0 L285.9,272.5 L284.8,275.4 L283.1,278.3 L281.2,281.0 L279.1,283.8 L276.7,286.7 L274.1,289.0 L271.6,290.0 L268.9,288.9 L266.1,286.3 L263.6,283.4 L261.9,281.5" stroke="rgb(40,182,40)" stroke-width="1.7" stroke-opacity="0.91" stroke-dasharray="34,17"/>
<path d="M337.7,262.1 L339.8,261.2 L342.7,259.9 L346.0,258.8 L348.9,258.6 L351.7,259.6 L354.5,261.2 L356.9,263.3 L358.4,265.6 L358.9,268.1 L358.5,270.8 L357.6,273.8 L356.6,276.6 L355.5,279.9 L354.2,283.5 L352.7,286.5 L350.8,288.0 L348.4,287.6 L345.6,285.7 L342.7,283.2 L340.1,281.0 L337.5,279.2 L335.0,277.4 L333.0,275.5 L332.0,273.3 L332.6,270.5 L334.3,267.2 L336.4,264.2 L337.7,262.1" stroke="rgb(40,188,40)" stroke-width="2.2" stroke-opacity="0.83" stroke-dasharray="29,10"/>
<path d="M60.4,271.9 L62.2,271.8 L64.7,271.7 L67.5,271.7 L69.8,272.4 L71.9,273.6 L73.8,275.4 L75.3,277.5 L76.2,279.5 L76.3,281.7 L75.7,284.1 L74.6,286.4 L73.4,288.4 L71.9,290.3 L70.0,292.0 L68.0,293.3 L66.0,293.8 L63.9,293.3 L61.8,292.1 L59.8,290.4 L58.0,288.7 L56.3,286.8 L54.6,284.6 L53.3,282.3 L53.0,280.1 L54.2,277.9 L56.4,275.5 L58.8,273.3 L60.4,271.9" stroke="rgb(40,225,40)" stroke-width="2.2" stroke-opacity="0.61" stroke-dasharray="35,4"/>
<path d="M128.8,308.6 L130.8,310.1 L133.8,312.2 L136.8,314.7 L138.9,317.5 L140.0,320.6 L140.5,324.1 L140.4,327.6 L139.6,330.7 L137.9,333.4 L135.3,336.0 L132.4,338.1 L129.4,339.3 L126.1,339.6 L122.6,339.1 L119.2,338.0 L116.5,336.3 L114.7,333.9 L113.4,330.7 L112.6,327.3 L112.3,324.1 L112.5,321.0 L113.2,318.0 L114.5,315.1 L116.3,312.8 L119.1,311.2 L122.8,310.0 L126.4,309.2 L128.8,308.6" stroke="rgb(40,218,40)" stroke-width="1.6" stroke-opacity="0.79" stroke-dasharray="34,17"/>
<path d="M35.2,328.5 L37.0,327.6 L39.6,326.2 L42.5,325.1 L45.2,324.8 L47.9,325.4 L50.6,326.8 L53.0,328.6 L54.7,330.7 L55.6,333.2 L55.8,336.2 L55.6,339.3 L54.8,342.1 L53.4,344.7 L51.3,347.4 L48.9,349.5 L46.5,350.6 L44.0,350.3 L41.3,348.9 L38.7,347.0 L36.4,345.1 L34.4,343.3 L32.5,341.3 L31.0,339.2 L30.4,337.1 L30.9,334.8 L32.4,332.3 L34.1,330.0 L35.2,328.5" stroke="rgb(40,233,40)" stroke-width="2.5" stroke-opacity="0.74" stroke-dasharray="35,14"/>
<path d="M310.5,2.9 L311.7,1.5 L313.3,-0.4 L315.1,-2.5 L317.1,-4.1 L319.3,-5.5 L321.8,-6.8 L324.2,-7.5 L326.3,-7.4 L327.9,-6.0 L329.4,-3.7 L330.5,-1.0 L331.4,1.5 L332.0,3.7 L332.4,5.9 L332.4,7.9 L331.8,9.8 L330.4,11.6 L328.3,13.4 L325.9,14.7 L323.7,15.4 L321.6,15.1 L319.4,14.2 L317.3,12.8 L315.5,11.2 L313.9,9.2 L312.5,6.8 L311.3,4.5 L310.5,2.9" stroke="rgb(40,216,40)" stroke-width="1.6" stroke-opacity="0.83" stroke-dasharray="22,18"/>
</g>
<g filter="url(#hz2)">
<circle cx="354.8" cy="17.8" r="14.9" fill="#1c8a1c" opacity="0.54"/>
<circle cx="293.7" cy="32.3" r="13.0" fill="#1c8a1c" opacity="0.52"/>
<circle cx="307.6" cy="31.1" r="10.9" fill="#1c8a1c" opacity="0.52"/>
<circle cx="185.2" cy="89.8" r="10.8" fill="#1c8a1c" opacity="0.25"/>
<circle cx="147.5" cy="79.5" r="10.0" fill="#1c8a1c" opacity="0.41"/>
<circle cx="261.9" cy="77.3" r="13.4" fill="#1c8a1c" opacity="0.37"/>
<circle cx="339.9" cy="75.5" r="14.3" fill="#1c8a1c" opacity="0.43"/>
<circle cx="358.9" cy="56.3" r="9.7" fill="#1c8a1c" opacity="0.25"/>
<circle cx="134.3" cy="102.0" r="12.0" fill="#1c8a1c" opacity="0.43"/>
<circle cx="164.2" cy="122.5" r="13.0" fill="#1c8a1c" opacity="0.32"/>
<circle cx="196.3" cy="125.7" r="10.4" fill="#1c8a1c" opacity="0.48"/>
<circle cx="286.4" cy="116.4" r="14.0" fill="#1c8a1c" opacity="0.26"/>
<circle cx="295.8" cy="93.1" r="9.9" fill="#1c8a1c" opacity="0.50"/>
<circle cx="344.2" cy="98.3" r="11.1" fill="#1c8a1c" opacity="0.35"/>
<circle cx="272.0" cy="125.1" r="11.0" fill="#1c8a1c" opacity="0.40"/>
<circle cx="241.0" cy="134.3" r="12.6" fill="#1c8a1c" opacity="0.29"/>
<circle cx="175.8" cy="146.5" r="14.1" fill="#1c8a1c" opacity="0.42"/>
<circle cx="332.7" cy="170.2" r="13.7" fill="#1c8a1c" opacity="0.47"/>
<circle cx="249.8" cy="171.2" r="13.3" fill="#1c8a1c" opacity="0.32"/>
<circle cx="157.2" cy="183.8" r="14.2" fill="#1c8a1c" opacity="0.48"/>
<circle cx="175.7" cy="194.9" r="14.1" fill="#1c8a1c" opacity="0.26"/>
<circle cx="202.4" cy="181.9" r="12.7" fill="#1c8a1c" opacity="0.43"/>
<circle cx="348.0" cy="188.8" r="11.1" fill="#1c8a1c" opacity="0.47"/>
<circle cx="275.6" cy="223.5" r="14.4" fill="#1c8a1c" opacity="0.30"/>
<circle cx="308.2" cy="220.4" r="11.6" fill="#1c8a1c" opacity="0.40"/>
<circle cx="284.9" cy="231.9" r="10.8" fill="#1c8a1c" opacity="0.51"/>
<circle cx="41.2" cy="246.3" r="9.1" fill="#1c8a1c" opacity="0.50"/>
<circle cx="133.5" cy="255.7" r="10.7" fill="#1c8a1c" opacity="0.42"/>
<circle cx="268.8" cy="247.4" r="13.6" fill="#1c8a1c" opacity="0.25"/>
<circle cx="273.5" cy="278.4" r="10.9" fill="#1c8a1c" opacity="0.28"/>
<circle cx="316.1" cy="279.3" r="9.7" fill="#1c8a1c" opacity="0.40"/>
<circle cx="192.7" cy="292.3" r="9.3" fill="#1c8a1c" opacity="0.26"/>
<circle cx="8.4" cy="337.3" r="11.0" fill="#1c8a1c" opacity="0.46"/>
</g>
<g filter="url(#nb)">
<ellipse cx="12.8" cy="11.4" rx="12.5" ry="8.5" fill="rgb(6,6,164)" transform="rotate(32 12.8 11.4)"/>
<ellipse cx="52.8" cy="11.4" rx="8.6" ry="5.9" fill="rgb(4,4,101)" transform="rotate(53 52.8 11.4)"/>
<ellipse cx="149.8" cy="5.7" rx="11.0" ry="7.5" fill="rgb(6,6,155)" transform="rotate(42 149.8 5.7)"/>
<ellipse cx="242.6" cy="25.7" rx="8.8" ry="11.2" fill="rgb(6,6,148)" transform="rotate(-30 242.6 25.7)"/>
<ellipse cx="285.4" cy="12.8" rx="9.6" ry="6.6" fill="rgb(4,4,116)" transform="rotate(28 285.4 12.8)"/>
<ellipse cx="349.6" cy="22.8" rx="10.5" ry="7.2" fill="rgb(6,6,145)" transform="rotate(43 349.6 22.8)"/>
<ellipse cx="12.8" cy="35.7" rx="11.5" ry="7.9" fill="rgb(6,6,146)" transform="rotate(30 12.8 35.7)"/>
<ellipse cx="55.6" cy="31.4" rx="10.5" ry="7.2" fill="rgb(6,6,161)" transform="rotate(34 55.6 31.4)"/>
<ellipse cx="114.2" cy="28.5" rx="12.0" ry="8.2" fill="rgb(6,6,147)" transform="rotate(50 114.2 28.5)"/>
<ellipse cx="194.1" cy="34.2" rx="10.5" ry="7.2" fill="rgb(6,6,164)" transform="rotate(50 194.1 34.2)"/>
<ellipse cx="235.4" cy="44.2" rx="11.0" ry="7.5" fill="rgb(6,6,156)" transform="rotate(23 235.4 44.2)"/>
<ellipse cx="288.2" cy="32.8" rx="9.6" ry="6.6" fill="rgb(4,4,117)" transform="rotate(25 288.2 32.8)"/>
<ellipse cx="308.2" cy="30.0" rx="10.5" ry="7.2" fill="rgb(6,6,161)" transform="rotate(32 308.2 30.0)"/>
<ellipse cx="48.5" cy="69.9" rx="11.0" ry="7.5" fill="rgb(6,6,150)" transform="rotate(26 48.5 69.9)"/>
<ellipse cx="107.0" cy="68.5" rx="11.5" ry="7.9" fill="rgb(6,6,144)" transform="rotate(39 107.0 68.5)"/>
<ellipse cx="151.2" cy="57.1" rx="11.0" ry="7.5" fill="rgb(6,6,160)" transform="rotate(40 151.2 57.1)"/>
<ellipse cx="185.5" cy="61.4" rx="10.5" ry="7.2" fill="rgb(4,4,118)" transform="rotate(23 185.5 61.4)"/>
<ellipse cx="212.6" cy="75.6" rx="10.1" ry="6.9" fill="rgb(4,4,99)" transform="rotate(21 212.6 75.6)"/>
<ellipse cx="182.6" cy="84.2" rx="10.1" ry="6.9" fill="rgb(4,4,101)" transform="rotate(32 182.6 84.2)"/>
<ellipse cx="148.4" cy="84.2" rx="10.1" ry="6.9" fill="rgb(6,6,161)" transform="rotate(53 148.4 84.2)"/>
<ellipse cx="259.7" cy="71.3" rx="10.4" ry="7.2" fill="rgb(6,6,163)" transform="rotate(20 259.7 71.3)"/>
<ellipse cx="251.1" cy="82.8" rx="11.0" ry="7.5" fill="rgb(6,6,147)" transform="rotate(48 251.1 82.8)"/>
<ellipse cx="281.1" cy="57.1" rx="10.1" ry="6.9" fill="rgb(4,4,102)" transform="rotate(41 281.1 57.1)"/>
<ellipse cx="338.2" cy="72.8" rx="10.1" ry="6.9" fill="rgb(4,4,113)" transform="rotate(40 338.2 72.8)"/>
<ellipse cx="356.7" cy="55.6" rx="8.2" ry="5.6" fill="rgb(6,6,144)" transform="rotate(34 356.7 55.6)"/>
<ellipse cx="12.8" cy="99.9" rx="11.5" ry="7.9" fill="rgb(6,6,163)" transform="rotate(36 12.8 99.9)"/>
<ellipse cx="85.6" cy="109.9" rx="12.5" ry="8.5" fill="rgb(6,6,155)" transform="rotate(47 85.6 109.9)"/>
<ellipse cx="134.1" cy="98.5" rx="9.1" ry="6.2" fill="rgb(4,4,98)" transform="rotate(43 134.1 98.5)"/>
<ellipse cx="215.5" cy="102.7" rx="11.0" ry="7.5" fill="rgb(4,4,110)" transform="rotate(38 215.5 102.7)"/>
<ellipse cx="161.2" cy="119.9" rx="9.6" ry="6.6" fill="rgb(6,6,143)" transform="rotate(44 161.2 119.9)"/>
<ellipse cx="199.8" cy="121.3" rx="12.0" ry="8.2" fill="rgb(6,6,158)" transform="rotate(30 199.8 121.3)"/>
<ellipse cx="134.1" cy="129.8" rx="11.5" ry="7.9" fill="rgb(6,6,162)" transform="rotate(54 134.1 129.8)"/>
<ellipse cx="289.7" cy="114.2" rx="11.0" ry="7.5" fill="rgb(6,6,143)" transform="rotate(45 289.7 114.2)"/>
<ellipse cx="298.2" cy="98.5" rx="8.2" ry="5.6" fill="rgb(4,4,112)" transform="rotate(20 298.2 98.5)"/>
<ellipse cx="335.3" cy="105.6" rx="9.6" ry="6.6" fill="rgb(4,4,105)" transform="rotate(23 335.3 105.6)"/>
<ellipse cx="349.6" cy="95.6" rx="9.1" ry="6.2" fill="rgb(4,4,100)" transform="rotate(42 349.6 95.6)"/>
<ellipse cx="339.6" cy="127.0" rx="9.6" ry="6.6" fill="rgb(6,6,150)" transform="rotate(53 339.6 127.0)"/>
<ellipse cx="272.5" cy="127.0" rx="10.5" ry="7.2" fill="rgb(6,6,157)" transform="rotate(29 272.5 127.0)"/>
<ellipse cx="244.0" cy="132.7" rx="10.5" ry="7.2" fill="rgb(6,6,157)" transform="rotate(44 244.0 132.7)"/>
<ellipse cx="5.7" cy="135.6" rx="8.2" ry="5.6" fill="rgb(6,6,157)" transform="rotate(41 5.7 135.6)"/>
<ellipse cx="57.1" cy="144.1" rx="9.1" ry="6.2" fill="rgb(6,6,161)" transform="rotate(31 57.1 144.1)"/>
<ellipse cx="27.1" cy="155.5" rx="9.6" ry="6.6" fill="rgb(4,4,112)" transform="rotate(52 27.1 155.5)"/>
<ellipse cx="79.9" cy="159.8" rx="10.5" ry="7.2" fill="rgb(4,4,99)" transform="rotate(24 79.9 159.8)"/>
<ellipse cx="115.6" cy="158.4" rx="10.5" ry="7.2" fill="rgb(6,6,147)" transform="rotate(34 115.6 158.4)"/>
<ellipse cx="139.8" cy="162.7" rx="11.5" ry="7.9" fill="rgb(6,6,156)" transform="rotate(39 139.8 162.7)"/>
<ellipse cx="171.2" cy="142.7" rx="10.1" ry="6.9" fill="rgb(6,6,143)" transform="rotate(30 171.2 142.7)"/>
<ellipse cx="204.0" cy="154.1" rx="9.6" ry="6.6" fill="rgb(12,14,206)" transform="rotate(23 204.0 154.1)"/>
<ellipse cx="178.4" cy="169.8" rx="9.6" ry="6.6" fill="rgb(6,6,148)" transform="rotate(36 178.4 169.8)"/>
<ellipse cx="261.1" cy="148.4" rx="9.1" ry="6.2" fill="rgb(4,4,110)" transform="rotate(26 261.1 148.4)"/>
<ellipse cx="292.5" cy="152.7" rx="9.6" ry="6.6" fill="rgb(4,4,117)" transform="rotate(46 292.5 152.7)"/>
<ellipse cx="338.2" cy="147.0" rx="9.1" ry="6.2" fill="rgb(6,6,158)" transform="rotate(23 338.2 147.0)"/>
<ellipse cx="326.8" cy="171.2" rx="9.6" ry="6.6" fill="rgb(6,6,159)" transform="rotate(36 326.8 171.2)"/>
<ellipse cx="342.5" cy="165.5" rx="8.2" ry="5.6" fill="rgb(4,4,100)" transform="rotate(41 342.5 165.5)"/>
<ellipse cx="255.4" cy="174.1" rx="11.0" ry="7.5" fill="rgb(6,6,152)" transform="rotate(39 255.4 174.1)"/>
<ellipse cx="298.2" cy="175.5" rx="10.5" ry="7.2" fill="rgb(4,4,105)" transform="rotate(43 298.2 175.5)"/>
<ellipse cx="58.5" cy="181.2" rx="12.5" ry="8.5" fill="rgb(6,6,149)" transform="rotate(24 58.5 181.2)"/>
<ellipse cx="85.6" cy="196.9" rx="12.0" ry="8.2" fill="rgb(12,14,217)" transform="rotate(47 85.6 196.9)"/>
<ellipse cx="132.7" cy="195.5" rx="9.6" ry="6.6" fill="rgb(6,6,159)" transform="rotate(51 132.7 195.5)"/>
<ellipse cx="159.8" cy="189.8" rx="8.6" ry="5.9" fill="rgb(6,6,157)" transform="rotate(36 159.8 189.8)"/>
<ellipse cx="175.5" cy="195.5" rx="8.2" ry="5.6" fill="rgb(6,6,159)" transform="rotate(34 175.5 195.5)"/>
<ellipse cx="201.2" cy="181.2" rx="10.1" ry="6.9" fill="rgb(6,6,148)" transform="rotate(51 201.2 181.2)"/>
<ellipse cx="222.6" cy="189.8" rx="10.5" ry="7.2" fill="rgb(6,6,160)" transform="rotate(33 222.6 189.8)"/>
<ellipse cx="18.5" cy="195.5" rx="9.6" ry="6.6" fill="rgb(4,4,112)" transform="rotate(33 18.5 195.5)"/>
<ellipse cx="281.1" cy="195.5" rx="11.5" ry="7.9" fill="rgb(6,6,153)" transform="rotate(38 281.1 195.5)"/>
<ellipse cx="345.3" cy="189.8" rx="10.1" ry="6.9" fill="rgb(6,6,149)" transform="rotate(39 345.3 189.8)"/>
<ellipse cx="38.5" cy="211.2" rx="10.5" ry="7.2" fill="rgb(6,6,145)" transform="rotate(28 38.5 211.2)"/>
<ellipse cx="10.0" cy="218.3" rx="9.6" ry="6.6" fill="rgb(6,6,144)" transform="rotate(53 10.0 218.3)"/>
<ellipse cx="174.1" cy="221.2" rx="12.5" ry="8.5" fill="rgb(6,6,163)" transform="rotate(31 174.1 221.2)"/>
<ellipse cx="212.6" cy="218.3" rx="11.5" ry="7.9" fill="rgb(6,6,144)" transform="rotate(50 212.6 218.3)"/>
<ellipse cx="105.6" cy="224.0" rx="9.6" ry="6.6" fill="rgb(4,4,110)" transform="rotate(35 105.6 224.0)"/>
<ellipse cx="142.7" cy="225.4" rx="5.8" ry="3.9" fill="rgb(4,4,115)" transform="rotate(30 142.7 225.4)"/>
<ellipse cx="269.7" cy="224.0" rx="10.5" ry="7.2" fill="rgb(4,4,99)" transform="rotate(21 269.7 224.0)"/>
<ellipse cx="306.8" cy="219.7" rx="10.1" ry="6.9" fill="rgb(6,6,147)" transform="rotate(25 306.8 219.7)"/>
<ellipse cx="288.2" cy="236.9" rx="12.0" ry="8.2" fill="rgb(6,6,145)" transform="rotate(54 288.2 236.9)"/>
<ellipse cx="42.8" cy="242.6" rx="11.0" ry="7.5" fill="rgb(6,6,152)" transform="rotate(24 42.8 242.6)"/>
<ellipse cx="69.9" cy="249.7" rx="11.0" ry="7.5" fill="rgb(6,6,154)" transform="rotate(29 69.9 249.7)"/>
<ellipse cx="176.9" cy="254.0" rx="11.5" ry="7.9" fill="rgb(4,4,99)" transform="rotate(31 176.9 254.0)"/>
<ellipse cx="218.3" cy="254.0" rx="10.1" ry="6.9" fill="rgb(6,6,164)" transform="rotate(49 218.3 254.0)"/>
<ellipse cx="131.3" cy="258.3" rx="12.0" ry="8.2" fill="rgb(6,6,148)" transform="rotate(50 131.3 258.3)"/>
<ellipse cx="274.0" cy="252.6" rx="10.1" ry="6.9" fill="rgb(6,6,163)" transform="rotate(39 274.0 252.6)"/>
<ellipse cx="356.7" cy="231.2" rx="8.2" ry="5.6" fill="rgb(6,6,147)" transform="rotate(47 356.7 231.2)"/>
<ellipse cx="8.6" cy="274.0" rx="12.0" ry="8.2" fill="rgb(6,6,162)" transform="rotate(25 8.6 274.0)"/>
<ellipse cx="108.4" cy="274.0" rx="7.7" ry="5.2" fill="rgb(4,4,115)" transform="rotate(41 108.4 274.0)"/>
<ellipse cx="152.7" cy="281.1" rx="12.0" ry="8.2" fill="rgb(6,6,149)" transform="rotate(21 152.7 281.1)"/>
<ellipse cx="232.6" cy="278.2" rx="11.5" ry="7.9" fill="rgb(6,6,157)" transform="rotate(36 232.6 278.2)"/>
<ellipse cx="271.1" cy="274.0" rx="11.0" ry="7.5" fill="rgb(6,6,159)" transform="rotate(52 271.1 274.0)"/>
<ellipse cx="316.8" cy="275.4" rx="12.0" ry="8.2" fill="rgb(6,6,165)" transform="rotate(33 316.8 275.4)"/>
<ellipse cx="346.7" cy="272.5" rx="10.5" ry="7.2" fill="rgb(6,6,143)" transform="rotate(33 346.7 272.5)"/>
<ellipse cx="34.2" cy="288.2" rx="12.5" ry="8.5" fill="rgb(6,6,154)" transform="rotate(26 34.2 288.2)"/>
<ellipse cx="65.6" cy="282.5" rx="9.1" ry="6.2" fill="rgb(6,6,145)" transform="rotate(39 65.6 282.5)"/>
<ellipse cx="82.8" cy="291.1" rx="10.5" ry="7.2" fill="rgb(6,6,143)" transform="rotate(50 82.8 291.1)"/>
<ellipse cx="186.9" cy="292.5" rx="11.5" ry="7.9" fill="rgb(6,6,152)" transform="rotate(25 186.9 292.5)"/>
<ellipse cx="275.4" cy="292.5" rx="12.5" ry="8.5" fill="rgb(6,6,165)" transform="rotate(26 275.4 292.5)"/>
<ellipse cx="108.4" cy="305.4" rx="9.6" ry="6.6" fill="rgb(6,6,145)" transform="rotate(52 108.4 305.4)"/>
<ellipse cx="125.6" cy="323.9" rx="12.0" ry="8.2" fill="rgb(6,6,159)" transform="rotate(33 125.6 323.9)"/>
<ellipse cx="204.0" cy="329.6" rx="9.6" ry="6.6" fill="rgb(6,6,153)" transform="rotate(50 204.0 329.6)"/>
<ellipse cx="234.0" cy="321.0" rx="11.0" ry="7.5" fill="rgb(4,4,97)" transform="rotate(23 234.0 321.0)"/>
<ellipse cx="276.8" cy="318.2" rx="9.1" ry="6.2" fill="rgb(6,6,145)" transform="rotate(38 276.8 318.2)"/>
<ellipse cx="311.1" cy="319.6" rx="9.6" ry="6.6" fill="rgb(4,4,108)" transform="rotate(54 311.1 319.6)"/>
<ellipse cx="338.2" cy="323.9" rx="9.6" ry="6.6" fill="rgb(6,6,153)" transform="rotate(31 338.2 323.9)"/>
<ellipse cx="12.8" cy="332.5" rx="10.1" ry="6.9" fill="rgb(6,6,147)" transform="rotate(38 12.8 332.5)"/>
<ellipse cx="42.8" cy="336.7" rx="10.5" ry="7.2" fill="rgb(6,6,144)" transform="rotate(28 42.8 336.7)"/>
<ellipse cx="81.3" cy="332.5" rx="10.1" ry="6.9" fill="rgb(4,4,110)" transform="rotate(25 81.3 332.5)"/>
<ellipse cx="159.8" cy="352.4" rx="10.5" ry="7.2" fill="rgb(6,6,148)" transform="rotate(42 159.8 352.4)"/>
<ellipse cx="75.6" cy="356.7" rx="9.1" ry="6.2" fill="rgb(4,4,112)" transform="rotate(29 75.6 356.7)"/>
<ellipse cx="285.4" cy="356.7" rx="7.7" ry="5.2" fill="rgb(4,4,113)" transform="rotate(22 285.4 356.7)"/>
<ellipse cx="322.5" cy="4.3" rx="8.6" ry="5.9" fill="rgb(4,4,115)" transform="rotate(32 322.5 4.3)"/>
<ellipse cx="216.9" cy="355.3" rx="7.2" ry="4.9" fill="rgb(4,4,115)" transform="rotate(24 216.9 355.3)"/>
</g>
<g filter="url(#nb)">
<ellipse cx="204.0" cy="22.8" rx="9.4" ry="8.8" fill="#50f070"/>
<ellipse cx="328.2" cy="3.4" rx="4.9" ry="4.3" fill="#50f070"/>
<ellipse cx="353.9" cy="12.0" rx="8.0" ry="8.0" fill="#50f070"/>
<ellipse cx="161.2" cy="322.5" rx="10.3" ry="10.8" fill="#8ff8d0"/>
<ellipse cx="351.0" cy="215.5" rx="7.1" ry="5.7" fill="#30d030"/>
<ellipse cx="10.0" cy="219.7" rx="5.7" ry="4.3" fill="#30d030"/>
<ellipse cx="204.0" cy="154.1" rx="5.7" ry="5.1" fill="#1fa01f"/>
</g>
</g></g>
<g transform="translate(840.6,1107)">
<rect x="0" y="0" width="364.4" height="362.6" fill="#000"/>
<clipPath id="clip3"><rect x="0" y="0" width="364.4" height="362.6"/></clipPath>
<g clip-path="url(#clip3)">
<g filter="url(#nb)">
<ellipse cx="121.8" cy="20.1" rx="11.2" ry="12.0" fill="rgb(3,3,99)" transform="rotate(11 121.8 20.1)"/>
<ellipse cx="189.1" cy="12.9" rx="11.2" ry="8.8" fill="rgb(3,3,102)" transform="rotate(-16 189.1 12.9)"/>
<ellipse cx="234.9" cy="2.9" rx="14.4" ry="6.4" fill="rgb(3,3,95)" transform="rotate(-15 234.9 2.9)"/>
<ellipse cx="247.8" cy="22.9" rx="11.2" ry="9.6" fill="rgb(3,3,97)" transform="rotate(-20 247.8 22.9)"/>
<ellipse cx="312.3" cy="7.2" rx="8.0" ry="8.0" fill="rgb(3,3,95)" transform="rotate(-17 312.3 7.2)"/>
<ellipse cx="350.9" cy="5.7" rx="9.6" ry="8.0" fill="rgb(3,3,97)" transform="rotate(11 350.9 5.7)"/>
<ellipse cx="279.3" cy="32.9" rx="9.6" ry="8.8" fill="rgb(3,3,99)" transform="rotate(-3 279.3 32.9)"/>
<ellipse cx="255.0" cy="47.3" rx="9.6" ry="8.8" fill="rgb(3,3,81)" transform="rotate(24 255.0 47.3)"/>
<ellipse cx="277.9" cy="51.6" rx="4.8" ry="12.0" fill="rgb(25,35,250)" transform="rotate(-40 277.9 51.6)"/>
<ellipse cx="352.4" cy="48.7" rx="8.0" ry="12.0" fill="rgb(5,5,141)" transform="rotate(-15 352.4 48.7)"/>
<ellipse cx="154.7" cy="55.9" rx="8.0" ry="7.2" fill="rgb(3,3,89)" transform="rotate(12 154.7 55.9)"/>
<ellipse cx="131.8" cy="68.8" rx="8.0" ry="7.2" fill="rgb(3,3,101)" transform="rotate(-10 131.8 68.8)"/>
<ellipse cx="303.7" cy="71.6" rx="9.6" ry="7.2" fill="rgb(3,3,97)" transform="rotate(-21 303.7 71.6)"/>
<ellipse cx="289.3" cy="81.6" rx="6.4" ry="8.0" fill="rgb(3,3,82)" transform="rotate(17 289.3 81.6)"/>
<ellipse cx="309.4" cy="83.1" rx="6.4" ry="6.4" fill="rgb(3,3,86)" transform="rotate(-9 309.4 83.1)"/>
<ellipse cx="349.5" cy="70.2" rx="9.6" ry="8.8" fill="rgb(3,3,87)" transform="rotate(2 349.5 70.2)"/>
<ellipse cx="98.8" cy="96.0" rx="12.8" ry="8.0" fill="rgb(5,5,140)" transform="rotate(15 98.8 96.0)"/>
<ellipse cx="171.9" cy="93.1" rx="9.6" ry="8.8" fill="rgb(5,5,126)" transform="rotate(21 171.9 93.1)"/>
<ellipse cx="226.3" cy="91.7" rx="10.4" ry="10.4" fill="rgb(5,5,120)" transform="rotate(20 226.3 91.7)"/>
<ellipse cx="200.5" cy="101.7" rx="8.0" ry="8.0" fill="rgb(3,3,94)" transform="rotate(-20 200.5 101.7)"/>
<ellipse cx="260.7" cy="103.1" rx="11.2" ry="9.6" fill="rgb(5,5,138)" transform="rotate(15 260.7 103.1)"/>
<ellipse cx="2.9" cy="100.3" rx="4.8" ry="6.4" fill="rgb(5,5,139)" transform="rotate(25 2.9 100.3)"/>
<ellipse cx="150.4" cy="116.0" rx="8.8" ry="8.8" fill="rgb(3,3,96)" transform="rotate(-12 150.4 116.0)"/>
<ellipse cx="194.8" cy="120.3" rx="9.6" ry="7.2" fill="rgb(3,3,81)" transform="rotate(21 194.8 120.3)"/>
<ellipse cx="166.2" cy="141.8" rx="11.2" ry="8.0" fill="rgb(3,3,90)" transform="rotate(20 166.2 141.8)"/>
<ellipse cx="200.5" cy="144.7" rx="9.6" ry="9.6" fill="rgb(5,5,122)" transform="rotate(-17 200.5 144.7)"/>
<ellipse cx="250.7" cy="133.2" rx="9.6" ry="9.6" fill="rgb(3,3,95)" transform="rotate(-1 250.7 133.2)"/>
<ellipse cx="14.3" cy="136.1" rx="9.6" ry="8.8" fill="rgb(3,3,82)" transform="rotate(24 14.3 136.1)"/>
<ellipse cx="243.5" cy="170.5" rx="9.6" ry="11.2" fill="rgb(5,5,142)" transform="rotate(0 243.5 170.5)"/>
<ellipse cx="157.6" cy="189.1" rx="11.2" ry="9.6" fill="rgb(3,3,91)" transform="rotate(13 157.6 189.1)"/>
<ellipse cx="206.3" cy="189.1" rx="11.2" ry="9.6" fill="rgb(5,5,134)" transform="rotate(-13 206.3 189.1)"/>
<ellipse cx="318.0" cy="190.5" rx="9.6" ry="10.4" fill="rgb(5,5,134)" transform="rotate(-12 318.0 190.5)"/>
<ellipse cx="329.4" cy="184.8" rx="9.6" ry="9.6" fill="rgb(5,5,128)" transform="rotate(7 329.4 184.8)"/>
<ellipse cx="44.4" cy="191.9" rx="9.6" ry="11.2" fill="rgb(5,5,128)" transform="rotate(15 44.4 191.9)"/>
<ellipse cx="8.6" cy="190.5" rx="9.6" ry="8.0" fill="rgb(3,3,98)" transform="rotate(-2 8.6 190.5)"/>
<ellipse cx="110.3" cy="212.0" rx="12.0" ry="11.2" fill="rgb(3,3,83)" transform="rotate(-12 110.3 212.0)"/>
<ellipse cx="177.6" cy="219.2" rx="7.2" ry="8.0" fill="rgb(12,14,206)" transform="rotate(4 177.6 219.2)"/>
<ellipse cx="216.3" cy="223.5" rx="11.2" ry="8.8" fill="rgb(3,3,84)" transform="rotate(19 216.3 223.5)"/>
<ellipse cx="58.7" cy="224.9" rx="10.4" ry="9.6" fill="rgb(3,3,80)" transform="rotate(-6 58.7 224.9)"/>
<ellipse cx="5.7" cy="229.2" rx="6.4" ry="9.6" fill="rgb(5,5,126)" transform="rotate(-2 5.7 229.2)"/>
<ellipse cx="279.3" cy="226.3" rx="9.6" ry="8.0" fill="rgb(3,3,97)" transform="rotate(-3 279.3 226.3)"/>
<ellipse cx="75.9" cy="240.6" rx="4.8" ry="4.8" fill="rgb(5,5,142)" transform="rotate(-23 75.9 240.6)"/>
<ellipse cx="81.6" cy="255.0" rx="11.2" ry="11.2" fill="rgb(5,5,138)" transform="rotate(11 81.6 255.0)"/>
<ellipse cx="25.8" cy="256.4" rx="9.6" ry="9.6" fill="rgb(3,3,92)" transform="rotate(2 25.8 256.4)"/>
<ellipse cx="146.1" cy="253.5" rx="11.2" ry="9.6" fill="rgb(3,3,88)" transform="rotate(-5 146.1 253.5)"/>
<ellipse cx="174.8" cy="250.7" rx="9.6" ry="12.8" fill="rgb(3,3,86)" transform="rotate(-14 174.8 250.7)"/>
<ellipse cx="207.7" cy="249.2" rx="7.2" ry="10.4" fill="rgb(3,3,87)" transform="rotate(-10 207.7 249.2)"/>
<ellipse cx="262.1" cy="243.5" rx="8.0" ry="8.0" fill="rgb(5,5,138)" transform="rotate(20 262.1 243.5)"/>
<ellipse cx="249.2" cy="263.6" rx="8.8" ry="8.8" fill="rgb(5,5,119)" transform="rotate(7 249.2 263.6)"/>
<ellipse cx="275.0" cy="266.4" rx="8.0" ry="10.4" fill="rgb(5,5,132)" transform="rotate(-12 275.0 266.4)"/>
<ellipse cx="297.9" cy="259.3" rx="9.6" ry="8.8" fill="rgb(3,3,89)" transform="rotate(10 297.9 259.3)"/>
<ellipse cx="336.6" cy="270.7" rx="11.2" ry="10.4" fill="rgb(5,5,140)" transform="rotate(7 336.6 270.7)"/>
<ellipse cx="11.5" cy="287.9" rx="3.9" ry="10.6" fill="rgb(25,35,244)" transform="rotate(40 11.5 287.9)"/>
<ellipse cx="78.8" cy="283.6" rx="5.5" ry="11.9" fill="rgb(25,35,247)" transform="rotate(20 78.8 283.6)"/>
<ellipse cx="137.5" cy="279.3" rx="13.5" ry="7.4" fill="rgb(25,35,255)" transform="rotate(-15 137.5 279.3)"/>
<ellipse cx="97.4" cy="287.9" rx="6.4" ry="9.6" fill="rgb(3,3,96)" transform="rotate(-9 97.4 287.9)"/>
<ellipse cx="54.4" cy="297.9" rx="8.0" ry="6.4" fill="rgb(3,3,79)" transform="rotate(-5 54.4 297.9)"/>
<ellipse cx="104.6" cy="299.4" rx="8.0" ry="8.0" fill="rgb(3,3,80)" transform="rotate(-2 104.6 299.4)"/>
<ellipse cx="123.2" cy="306.5" rx="9.6" ry="7.2" fill="rgb(3,3,99)" transform="rotate(14 123.2 306.5)"/>
<ellipse cx="151.8" cy="308.0" rx="9.6" ry="14.4" fill="rgb(3,3,100)" transform="rotate(1 151.8 308.0)"/>
<ellipse cx="174.8" cy="309.4" rx="9.6" ry="9.6" fill="rgb(3,3,89)" transform="rotate(-14 174.8 309.4)"/>
<ellipse cx="191.9" cy="296.5" rx="9.6" ry="8.8" fill="rgb(3,3,80)" transform="rotate(-16 191.9 296.5)"/>
<ellipse cx="216.3" cy="313.7" rx="11.2" ry="11.2" fill="rgb(5,5,120)" transform="rotate(16 216.3 313.7)"/>
<ellipse cx="242.1" cy="306.5" rx="6.4" ry="9.6" fill="rgb(3,3,92)" transform="rotate(22 242.1 306.5)"/>
<ellipse cx="283.6" cy="295.1" rx="10.4" ry="9.6" fill="rgb(3,3,80)" transform="rotate(10 283.6 295.1)"/>
<ellipse cx="276.5" cy="308.0" rx="5.6" ry="4.8" fill="rgb(5,5,138)" transform="rotate(20 276.5 308.0)"/>
<ellipse cx="7.2" cy="315.1" rx="6.4" ry="6.4" fill="rgb(3,3,83)" transform="rotate(-20 7.2 315.1)"/>
<ellipse cx="55.9" cy="326.6" rx="9.6" ry="9.6" fill="rgb(3,3,91)" transform="rotate(-18 55.9 326.6)"/>
<ellipse cx="88.8" cy="329.4" rx="11.2" ry="10.4" fill="rgb(3,3,98)" transform="rotate(-21 88.8 329.4)"/>
<ellipse cx="123.2" cy="328.0" rx="9.6" ry="9.6" fill="rgb(3,3,95)" transform="rotate(-0 123.2 328.0)"/>
<ellipse cx="171.9" cy="348.1" rx="12.0" ry="9.6" fill="rgb(3,3,94)" transform="rotate(-12 171.9 348.1)"/>
<ellipse cx="227.8" cy="348.1" rx="8.0" ry="9.6" fill="rgb(3,3,94)" transform="rotate(-2 227.8 348.1)"/>
<ellipse cx="237.8" cy="326.6" rx="8.8" ry="8.0" fill="rgb(3,3,102)" transform="rotate(-4 237.8 326.6)"/>
<ellipse cx="269.3" cy="323.7" rx="4.8" ry="4.8" fill="rgb(5,5,138)" transform="rotate(17 269.3 323.7)"/>
<ellipse cx="306.5" cy="352.4" rx="9.6" ry="8.0" fill="rgb(3,3,83)" transform="rotate(-8 306.5 352.4)"/>
<ellipse cx="352.4" cy="318.0" rx="8.0" ry="9.6" fill="rgb(3,3,82)" transform="rotate(-17 352.4 318.0)"/>
<ellipse cx="27.2" cy="332.3" rx="8.8" ry="9.6" fill="rgb(3,3,85)" transform="rotate(23 27.2 332.3)"/>
<ellipse cx="358.1" cy="352.4" rx="6.4" ry="8.0" fill="rgb(3,3,84)" transform="rotate(19 358.1 352.4)"/>
<ellipse cx="128.9" cy="359.5" rx="6.4" ry="3.2" fill="rgb(5,5,124)" transform="rotate(6 128.9 359.5)"/>
</g>
<g filter="url(#nb)">
<ellipse cx="147.5" cy="15.8" rx="4.3" ry="3.2" fill="#50f070"/>
<ellipse cx="289.3" cy="2.9" rx="2.6" ry="2.3" fill="#50f070"/>
<ellipse cx="252.1" cy="100.3" rx="2.0" ry="4.6" fill="#50f070"/>
<ellipse cx="164.7" cy="124.6" rx="1.4" ry="1.4" fill="#1fa01f"/>
<ellipse cx="252.1" cy="267.9" rx="2.9" ry="4.0" fill="#50f070"/>
<ellipse cx="359.5" cy="25.8" rx="1.1" ry="2.3" fill="#1fa01f"/>
</g>
</g></g>
<path d="M989.6,1350.5 Q992.4,1339.0 1005.3,1336.2" stroke="#30d030" stroke-width="1.8" fill="none" filter="url(#gb)"/>
<text x="170.24" y="1090.80" font-size="36.22" font-weight="bold" fill="#000" textLength="192.80" lengthAdjust="spacingAndGlyphs">TRAIL-FAM</text>
<text x="528.02" y="1090.70" font-size="35.93" font-weight="bold" fill="#000">Z-TRAIL-FAM</text>
<text x="861.53" y="1091.00" font-size="34.34" font-weight="bold" fill="#000" textLength="331.69" lengthAdjust="spacingAndGlyphs">Z-TRAIL-FAM Block</text>
<line x1="1121.80" y1="1426.30" x2="1182.40" y2="1426.30" stroke="#fff" stroke-width="4.2"/>
<text x="1112.78" y="1458.30" font-size="26.81" font-weight="bold" fill="#fff" textLength="77.77" lengthAdjust="spacingAndGlyphs">50 µm</text>
<line x1="171.80" y1="1539.70" x2="171.80" y2="1922.00" stroke="#000" stroke-width="5.2"/>
<line x1="160.40" y1="1919.50" x2="598.70" y2="1919.50" stroke="#000" stroke-width="5.2"/>
<line x1="160.80" y1="1542.30" x2="171.80" y2="1542.30" stroke="#000" stroke-width="5.2"/>
<line x1="160.80" y1="1637.10" x2="171.80" y2="1637.10" stroke="#000" stroke-width="5.2"/>
<line x1="160.80" y1="1731.90" x2="171.80" y2="1731.90" stroke="#000" stroke-width="5.2"/>
<line x1="160.80" y1="1826.20" x2="171.80" y2="1826.20" stroke="#000" stroke-width="5.2"/>
<line x1="160.80" y1="1919.50" x2="171.80" y2="1919.50" stroke="#000" stroke-width="5.2"/>
<line x1="171.30" y1="1919.50" x2="171.30" y2="1931.00" stroke="#000" stroke-width="5.2"/>
<line x1="231.80" y1="1919.50" x2="231.80" y2="1931.00" stroke="#000" stroke-width="5.2"/>
<line x1="292.50" y1="1919.50" x2="292.50" y2="1931.00" stroke="#000" stroke-width="5.2"/>
<line x1="353.30" y1="1919.50" x2="353.30" y2="1931.00" stroke="#000" stroke-width="5.2"/>
<line x1="414.00" y1="1919.50" x2="414.00" y2="1931.00" stroke="#000" stroke-width="5.2"/>
<line x1="474.60" y1="1919.50" x2="474.60" y2="1931.00" stroke="#000" stroke-width="5.2"/>
<line x1="535.30" y1="1919.50" x2="535.30" y2="1931.00" stroke="#000" stroke-width="5.2"/>
<line x1="595.90" y1="1919.50" x2="595.90" y2="1931.00" stroke="#000" stroke-width="5.2"/>
<text x="102.69" y="1550.20" font-size="25.95" font-weight="bold" fill="#000">120</text>
<text x="102.69" y="1645.00" font-size="26.09" font-weight="bold" fill="#000" textLength="43.07" lengthAdjust="spacingAndGlyphs">100</text>
<text x="117.37" y="1739.70" font-size="25.95" font-weight="bold" fill="#000" textLength="28.41" lengthAdjust="spacingAndGlyphs">80</text>
<text x="117.24" y="1834.50" font-size="25.95" font-weight="bold" fill="#000" textLength="28.55" lengthAdjust="spacingAndGlyphs">60</text>
<text x="117.82" y="1928.20" font-size="25.95" font-weight="bold" fill="#000" textLength="27.94" lengthAdjust="spacingAndGlyphs">40</text>
<polyline points="171.3,1637.9 231.8,1611.4 292.5,1636.3 353.3,1621.9 414.0,1653.4 474.6,1659.5 535.3,1667.0 595.9,1681.2" fill="none" stroke="#000" stroke-width="5.2" stroke-linejoin="round"/>
<line x1="353.30" y1="1601.20" x2="353.30" y2="1639.00" stroke="#000" stroke-width="3.6"/>
<line x1="346.80" y1="1602.90" x2="359.80" y2="1602.90" stroke="#000" stroke-width="3.6"/>
<line x1="346.80" y1="1637.30" x2="359.80" y2="1637.30" stroke="#000" stroke-width="3.6"/>
<line x1="414.00" y1="1627.90" x2="414.00" y2="1677.90" stroke="#000" stroke-width="3.6"/>
<line x1="407.50" y1="1629.60" x2="420.50" y2="1629.60" stroke="#000" stroke-width="3.6"/>
<line x1="407.50" y1="1676.20" x2="420.50" y2="1676.20" stroke="#000" stroke-width="3.6"/>
<line x1="231.80" y1="1604.00" x2="231.80" y2="1619.00" stroke="#000" stroke-width="3.6"/>
<line x1="225.30" y1="1605.70" x2="238.30" y2="1605.70" stroke="#000" stroke-width="3.6"/>
<line x1="225.30" y1="1617.30" x2="238.30" y2="1617.30" stroke="#000" stroke-width="3.6"/>
<path d="M171.3,1632.4 L179.1,1645.7 L163.6,1645.7 Z" fill="#fff" stroke="#000" stroke-width="5.0" stroke-linejoin="miter"/>
<path d="M231.8,1605.9 L239.6,1619.2 L224.1,1619.2 Z" fill="#fff" stroke="#000" stroke-width="5.0" stroke-linejoin="miter"/>
<path d="M292.5,1630.8 L300.2,1644.0 L284.8,1644.0 Z" fill="#fff" stroke="#000" stroke-width="5.0" stroke-linejoin="miter"/>
<path d="M353.3,1616.4 L361.1,1629.7 L345.6,1629.7 Z" fill="#fff" stroke="#000" stroke-width="5.0" stroke-linejoin="miter"/>
<path d="M414.0,1647.9 L421.8,1661.2 L406.2,1661.2 Z" fill="#fff" stroke="#000" stroke-width="5.0" stroke-linejoin="miter"/>
<path d="M474.6,1654.0 L482.4,1667.2 L466.9,1667.2 Z" fill="#fff" stroke="#000" stroke-width="5.0" stroke-linejoin="miter"/>
<path d="M535.3,1661.5 L543.0,1674.8 L527.5,1674.8 Z" fill="#fff" stroke="#000" stroke-width="5.0" stroke-linejoin="miter"/>
<path d="M595.9,1675.7 L603.6,1689.0 L588.1,1689.0 Z" fill="#fff" stroke="#000" stroke-width="5.0" stroke-linejoin="miter"/>
<text transform="translate(87.70,1850.60) rotate(-90)" x="-1.20" y="0" font-size="32.40" font-weight="bold" fill="#000" textLength="177.38" lengthAdjust="spacingAndGlyphs">Cell Viability</text>
<text transform="translate(87.70,1657.60) rotate(-90)" x="-1.39" y="0" font-size="32.40" font-weight="bold" fill="#000" textLength="43.29" lengthAdjust="spacingAndGlyphs">(%)</text>
<text transform="translate(175.8,1953.0) rotate(-45)" x="0" y="0" text-anchor="end" font-size="26.5" font-weight="bold">0</text>
<text transform="translate(236.3,1953.0) rotate(-45)" x="0" y="0" text-anchor="end" font-size="26.5" font-weight="bold">0.01</text>
<text transform="translate(297.0,1953.0) rotate(-45)" x="0" y="0" text-anchor="end" font-size="26.5" font-weight="bold">0.03</text>
<text transform="translate(357.8,1953.0) rotate(-45)" x="0" y="0" text-anchor="end" font-size="26.5" font-weight="bold">0.1</text>
<text transform="translate(418.5,1953.0) rotate(-45)" x="0" y="0" text-anchor="end" font-size="26.5" font-weight="bold">0.3</text>
<text transform="translate(479.1,1953.0) rotate(-45)" x="0" y="0" text-anchor="end" font-size="26.5" font-weight="bold">1</text>
<text transform="translate(539.8,1953.0) rotate(-45)" x="0" y="0" text-anchor="end" font-size="26.5" font-weight="bold">3</text>
<text transform="translate(600.4,1953.0) rotate(-45)" x="0" y="0" text-anchor="end" font-size="26.5" font-weight="bold">10</text>
<text x="169.71" y="2035.00" font-size="31.27" font-weight="bold" fill="#000" textLength="18.02" lengthAdjust="spacingAndGlyphs">Z</text>
<text x="189.23" y="2040.40" font-size="19.07" font-weight="bold" fill="#000" textLength="108.45" lengthAdjust="spacingAndGlyphs">EGFR:1907</text>
<text x="310.37" y="2035.00" font-size="29.66" font-weight="bold" fill="#000" textLength="225.71" lengthAdjust="spacingAndGlyphs">Concentrations</text>
<text x="549.38" y="2035.00" font-size="29.66" font-weight="bold" fill="#000" textLength="67.35" lengthAdjust="spacingAndGlyphs">(µM)</text>
<defs>
<pattern id="hk" patternUnits="userSpaceOnUse" width="8.3" height="8.3" patternTransform="rotate(45)"><rect width="8.3" height="8.3" fill="#fff"/><rect x="0" y="0" width="2.7" height="8.3" fill="#000"/></pattern>
<pattern id="hr" patternUnits="userSpaceOnUse" width="8.3" height="8.3" patternTransform="rotate(45)"><rect width="8.3" height="8.3" fill="#fff"/><rect x="0" y="0" width="2.7" height="8.3" fill="#c40000"/></pattern>
<pattern id="hk2" patternUnits="userSpaceOnUse" width="6" height="6" patternTransform="rotate(45)"><rect width="6" height="6" fill="#fff"/><rect x="0" y="0" width="2.2" height="6" fill="#000"/></pattern>
<pattern id="hr2" patternUnits="userSpaceOnUse" width="7" height="7" patternTransform="rotate(45)"><rect width="7" height="7" fill="#fff"/><rect x="0" y="0" width="3" height="7" fill="#c40000"/></pattern>
</defs>
<line x1="828.70" y1="1593.10" x2="828.70" y2="1618.20" stroke="#000" stroke-width="3.2"/>
<line x1="822.70" y1="1593.10" x2="834.70" y2="1593.10" stroke="#000" stroke-width="4.2"/>
<rect x="809.2" y="1616.2" width="39.0" height="329.1" rx="2" fill="#000"/>
<line x1="872.50" y1="1611.00" x2="872.50" y2="1621.10" stroke="#000" stroke-width="3.2"/>
<line x1="866.50" y1="1611.00" x2="878.50" y2="1611.00" stroke="#000" stroke-width="4.2"/>
<rect x="855.1" y="1620.5" width="34.8" height="324.8" fill="url(#hk)" stroke="#000" stroke-width="2.8"/>
<line x1="915.65" y1="1886.90" x2="915.65" y2="1892.60" stroke="#000" stroke-width="3.2"/>
<line x1="909.65" y1="1886.90" x2="921.65" y2="1886.90" stroke="#000" stroke-width="4.2"/>
<rect x="898.3" y="1892.1" width="34.7" height="53.2" fill="#c00000" stroke="#000" stroke-width="3"/>
<line x1="959.85" y1="1677.00" x2="959.85" y2="1698.60" stroke="#000" stroke-width="3.2"/>
<line x1="953.85" y1="1677.00" x2="965.85" y2="1677.00" stroke="#000" stroke-width="4.2"/>
<rect x="941.9" y="1698.0" width="35.9" height="247.3" fill="url(#hr)" stroke="#000" stroke-width="2.8"/>
<line x1="1068.25" y1="1831.40" x2="1068.25" y2="1840.10" stroke="#000" stroke-width="3.2"/>
<line x1="1062.25" y1="1831.40" x2="1074.25" y2="1831.40" stroke="#000" stroke-width="4.2"/>
<rect x="1048.6" y="1838.1" width="39.3" height="107.2" rx="2" fill="#000"/>
<line x1="1111.20" y1="1834.40" x2="1111.20" y2="1849.80" stroke="#000" stroke-width="3.2"/>
<line x1="1105.20" y1="1834.40" x2="1117.20" y2="1834.40" stroke="#000" stroke-width="4.2"/>
<rect x="1094.0" y="1849.2" width="34.4" height="96.1" fill="url(#hk)" stroke="#000" stroke-width="2.8"/>
<line x1="1155.65" y1="1928.50" x2="1155.65" y2="1933.60" stroke="#000" stroke-width="3.2"/>
<line x1="1149.65" y1="1928.50" x2="1161.65" y2="1928.50" stroke="#000" stroke-width="4.2"/>
<rect x="1138.0" y="1933.1" width="35.3" height="12.2" fill="#c00000" stroke="#000" stroke-width="3"/>
<line x1="1199.00" y1="1841.00" x2="1199.00" y2="1857.50" stroke="#000" stroke-width="3.2"/>
<line x1="1193.00" y1="1841.00" x2="1205.00" y2="1841.00" stroke="#000" stroke-width="4.2"/>
<rect x="1181.7" y="1856.9" width="34.6" height="88.4" fill="url(#hr)" stroke="#000" stroke-width="2.8"/>
<line x1="774.10" y1="1536.00" x2="774.10" y2="1948.00" stroke="#000" stroke-width="5.6"/>
<line x1="764.20" y1="1945.30" x2="1253.00" y2="1945.30" stroke="#000" stroke-width="6"/>
<line x1="764.30" y1="1538.30" x2="774.10" y2="1538.30" stroke="#000" stroke-width="4.6"/>
<line x1="764.30" y1="1619.70" x2="774.10" y2="1619.70" stroke="#000" stroke-width="4.6"/>
<line x1="764.30" y1="1701.10" x2="774.10" y2="1701.10" stroke="#000" stroke-width="4.6"/>
<line x1="764.30" y1="1782.50" x2="774.10" y2="1782.50" stroke="#000" stroke-width="4.6"/>
<line x1="764.30" y1="1863.90" x2="774.10" y2="1863.90" stroke="#000" stroke-width="4.6"/>
<line x1="764.30" y1="1945.30" x2="774.10" y2="1945.30" stroke="#000" stroke-width="4.6"/>
<text x="706.47" y="1546.20" font-size="23.80" font-weight="bold" fill="#000" textLength="43.39" lengthAdjust="spacingAndGlyphs">100</text>
<text x="721.26" y="1628.30" font-size="23.80" font-weight="bold" fill="#000" textLength="28.63" lengthAdjust="spacingAndGlyphs">80</text>
<text x="721.13" y="1709.70" font-size="23.80" font-weight="bold" fill="#000" textLength="28.76" lengthAdjust="spacingAndGlyphs">60</text>
<text x="721.72" y="1791.10" font-size="23.80" font-weight="bold" fill="#000" textLength="28.15" lengthAdjust="spacingAndGlyphs">40</text>
<text x="721.20" y="1872.50" font-size="23.80" font-weight="bold" fill="#000" textLength="28.70" lengthAdjust="spacingAndGlyphs">20</text>
<text x="736.22" y="1953.90" font-size="23.80" font-weight="bold" fill="#000" textLength="13.58" lengthAdjust="spacingAndGlyphs">0</text>
<line x1="915.40" y1="1657.90" x2="959.30" y2="1657.90" stroke="#000" stroke-width="4"/>
<line x1="1157.40" y1="1822.60" x2="1202.40" y2="1822.60" stroke="#000" stroke-width="4"/>
<text x="938.5" y="1660.3" text-anchor="middle" font-size="27" font-weight="bold" textLength="37.0" lengthAdjust="spacingAndGlyphs">***</text>
<text x="1181.7" y="1825.5" text-anchor="middle" font-size="27" font-weight="bold" textLength="36.1" lengthAdjust="spacingAndGlyphs">***</text>
<rect x="1021.8" y="1541.4" width="14.6" height="15" fill="#000" stroke="#000" stroke-width="2.8"/>
<rect x="1021.8" y="1580.7" width="14.6" height="15" fill="url(#hk2)" stroke="#000" stroke-width="2.8"/>
<rect x="1021.8" y="1619.1" width="14.6" height="15" fill="#c00000" stroke="#000" stroke-width="2.8"/>
<rect x="1021.8" y="1657.4" width="14.6" height="15" fill="url(#hr2)" stroke="#000" stroke-width="2.8"/>
<text x="1044.93" y="1558.40" font-size="27.64" font-weight="bold" fill="#000" textLength="79.01" lengthAdjust="spacingAndGlyphs">TRAIL</text>
<text x="1044.93" y="1596.00" font-size="26.21" font-weight="bold" fill="#000" textLength="159.86" lengthAdjust="spacingAndGlyphs">TRAIL Block</text>
<text x="1042.67" y="1633.50" font-size="27.64" font-weight="bold" fill="#000">Z-TRAIL</text>
<text x="1042.77" y="1672.30" font-size="26.21" font-weight="bold" fill="#000" textLength="189.18" lengthAdjust="spacingAndGlyphs">Z-TRAIL Block</text>
<text x="875.54" y="1986.80" font-size="24.80" font-weight="bold" fill="#000" textLength="36.68" lengthAdjust="spacingAndGlyphs">0.3</text>
<text x="1127.17" y="1986.80" font-size="25.52" font-weight="bold" fill="#000" textLength="13.08" lengthAdjust="spacingAndGlyphs">3</text>
<text x="800.64" y="2039.50" font-size="29.24" font-weight="bold" fill="#000" textLength="105.19" lengthAdjust="spacingAndGlyphs">Protein</text>
<text x="917.67" y="2039.50" font-size="29.24" font-weight="bold" fill="#000" textLength="208.80" lengthAdjust="spacingAndGlyphs">Concentration</text>
<text x="1139.73" y="2039.50" font-size="29.24" font-weight="bold" fill="#000" textLength="66.34" lengthAdjust="spacingAndGlyphs">(nM)</text>
<text transform="translate(695.20,1861.70) rotate(-90)" x="-1.22" y="0" font-size="34.27" font-weight="bold" fill="#000" textLength="180.50" lengthAdjust="spacingAndGlyphs">Cell Viability</text>
<text transform="translate(695.20,1664.90) rotate(-90)" x="-1.40" y="0" font-size="34.27" font-weight="bold" fill="#000" textLength="43.61" lengthAdjust="spacingAndGlyphs">(%)</text>
</svg>
</body></html>
